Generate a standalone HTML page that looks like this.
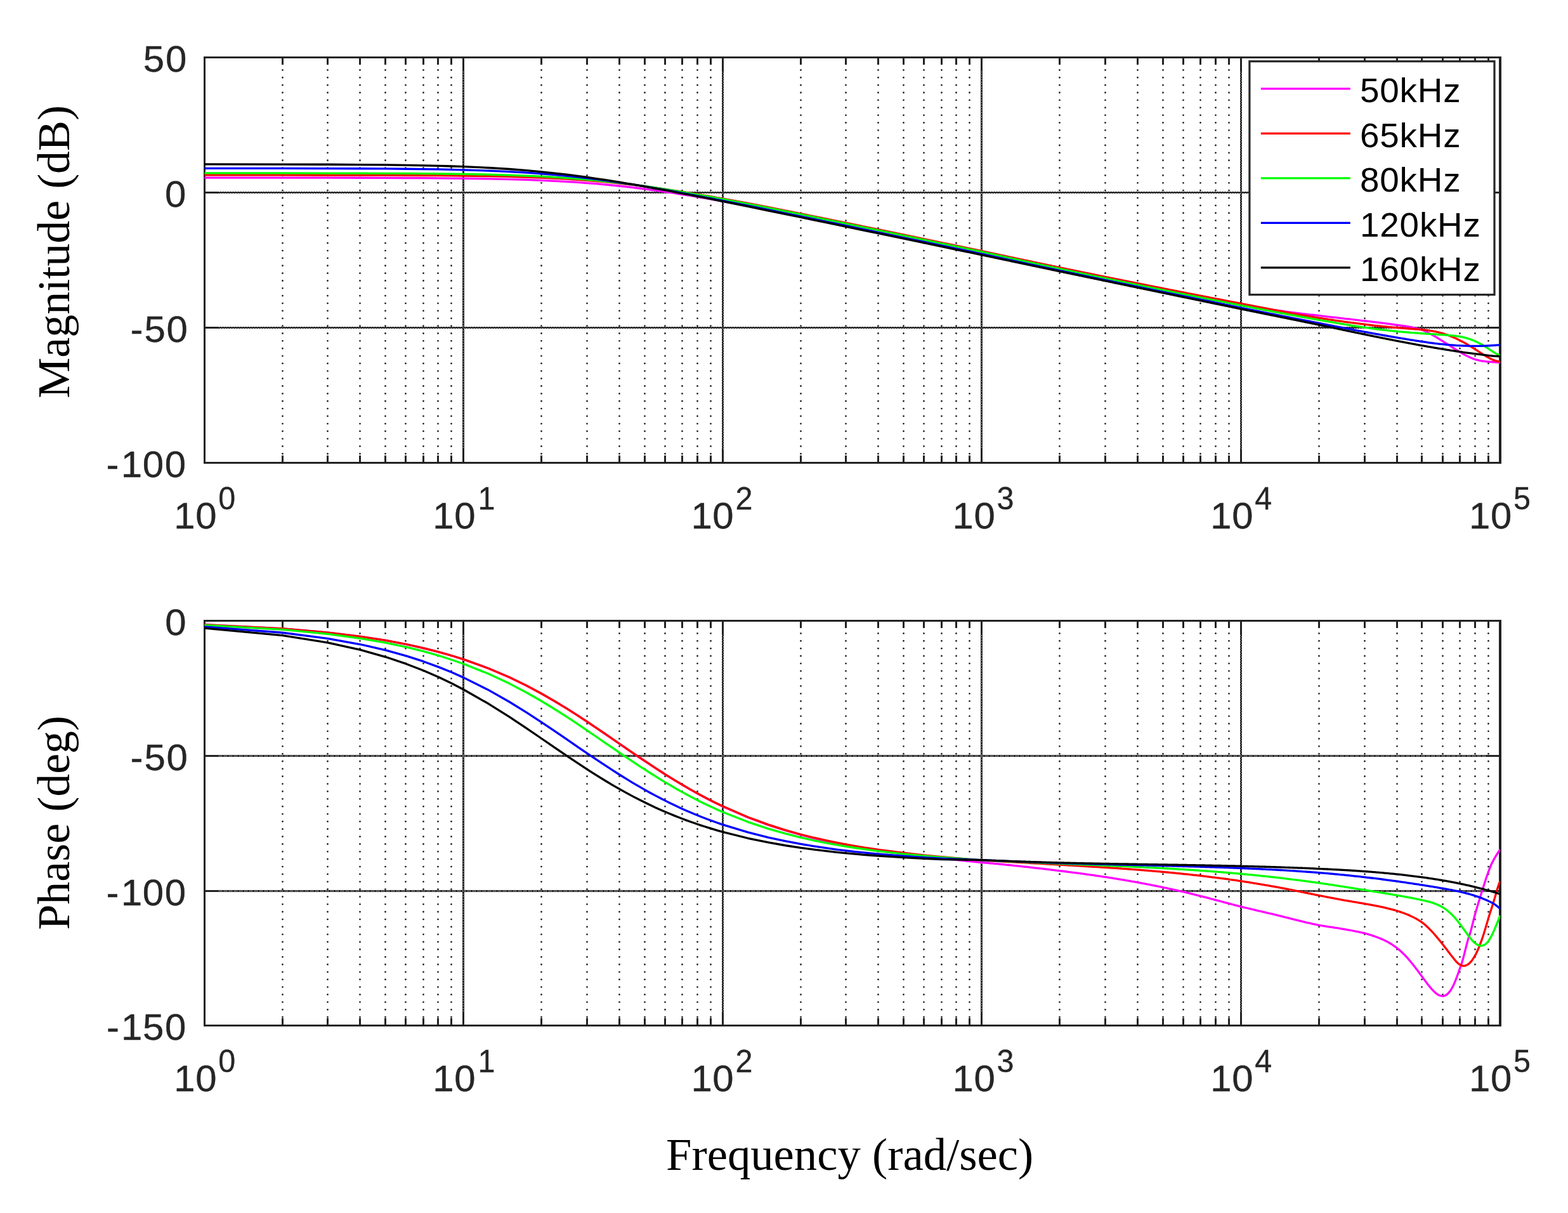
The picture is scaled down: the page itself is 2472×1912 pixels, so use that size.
<!DOCTYPE html>
<html lang="en"><head><meta charset="utf-8"><title>Bode plot</title>
<style>html,body{margin:0;padding:0;background:#fff;overflow:hidden}svg{display:block}text{font-family:"Liberation Sans",sans-serif}.serif{font-family:"Liberation Serif",serif;fill:#000}</style></head><body>
<svg width="2472" height="1912" viewBox="0 0 2472 1912">
<rect width="2472" height="1912" fill="#fff"/>
<defs><clipPath id="ct"><rect x="321.5" y="90.5" width="2044" height="639"/></clipPath><clipPath id="cb"><rect x="321.5" y="978.5" width="2044" height="638"/></clipPath></defs>
<g id="mag">
<path d="M445.5 110.4 V718.5 M516.5 110.4 V718.5 M567.5 110.4 V718.5 M607.5 110.4 V718.5 M639.5 110.4 V718.5 M667.5 110.4 V718.5 M690.5 110.4 V718.5 M711.5 110.4 V718.5 M853.5 110.4 V718.5 M925.5 110.4 V718.5 M976.5 110.4 V718.5 M1016.5 110.4 V718.5 M1048.5 110.4 V718.5 M1075.5 110.4 V718.5 M1099.5 110.4 V718.5 M1120.5 110.4 V718.5 M1262.5 110.4 V718.5 M1333.5 110.4 V718.5 M1384.5 110.4 V718.5 M1424.5 110.4 V718.5 M1456.5 110.4 V718.5 M1484.5 110.4 V718.5 M1507.5 110.4 V718.5 M1528.5 110.4 V718.5 M1670.5 110.4 V718.5 M1742.5 110.4 V718.5 M1793.5 110.4 V718.5 M1833.5 110.4 V718.5 M1865.5 110.4 V718.5 M1892.5 110.4 V718.5 M1916.5 110.4 V718.5 M1937.5 110.4 V718.5 M2079.5 110.4 V718.5 M2151.5 110.4 V718.5 M2202.5 110.4 V718.5 M2241.5 110.4 V718.5 M2274.5 110.4 V718.5 M2301.5 110.4 V718.5 M2325.5 110.4 V718.5 M2346.5 110.4 V718.5" fill="none" stroke="#222222" stroke-width="2.8" stroke-linecap="round" stroke-dasharray="0.01 11.85"/>
<path d="M730.5 90.5 V729.5 M1139.5 90.5 V729.5 M1547.5 90.5 V729.5 M1956.5 90.5 V729.5" fill="none" stroke="#222222" stroke-width="3"/>
<path d="M730.5 113 V708.5 M1547.5 113 V708.5" fill="none" stroke="#fff" stroke-width="1" stroke-dasharray="1 3"/>
<path d="M1138.3 113 V708.5 M1955.3 113 V708.5 M1140.7 115 V708.5 M1957.7 115 V708.5" fill="none" stroke="#fff" stroke-width="0.8" stroke-dasharray="1.2 2.8"/>
<path d="M322.5 303.5 H2365 M322.5 516.5 H2365" fill="none" stroke="#222222" stroke-width="3"/>
<path d="M345 302.3 H2343 M345 515.3 H2343 M347 304.7 H2343 M347 517.7 H2343" fill="none" stroke="#fff" stroke-width="0.8" stroke-dasharray="1.2 2.8"/>
<path d="M445.5 90.5 v11.5 M445.5 729.5 v-11.5 M516.5 90.5 v11.5 M516.5 729.5 v-11.5 M567.5 90.5 v11.5 M567.5 729.5 v-11.5 M607.5 90.5 v11.5 M607.5 729.5 v-11.5 M639.5 90.5 v11.5 M639.5 729.5 v-11.5 M667.5 90.5 v11.5 M667.5 729.5 v-11.5 M690.5 90.5 v11.5 M690.5 729.5 v-11.5 M711.5 90.5 v11.5 M711.5 729.5 v-11.5 M853.5 90.5 v11.5 M853.5 729.5 v-11.5 M925.5 90.5 v11.5 M925.5 729.5 v-11.5 M976.5 90.5 v11.5 M976.5 729.5 v-11.5 M1016.5 90.5 v11.5 M1016.5 729.5 v-11.5 M1048.5 90.5 v11.5 M1048.5 729.5 v-11.5 M1075.5 90.5 v11.5 M1075.5 729.5 v-11.5 M1099.5 90.5 v11.5 M1099.5 729.5 v-11.5 M1120.5 90.5 v11.5 M1120.5 729.5 v-11.5 M1262.5 90.5 v11.5 M1262.5 729.5 v-11.5 M1333.5 90.5 v11.5 M1333.5 729.5 v-11.5 M1384.5 90.5 v11.5 M1384.5 729.5 v-11.5 M1424.5 90.5 v11.5 M1424.5 729.5 v-11.5 M1456.5 90.5 v11.5 M1456.5 729.5 v-11.5 M1484.5 90.5 v11.5 M1484.5 729.5 v-11.5 M1507.5 90.5 v11.5 M1507.5 729.5 v-11.5 M1528.5 90.5 v11.5 M1528.5 729.5 v-11.5 M1670.5 90.5 v11.5 M1670.5 729.5 v-11.5 M1742.5 90.5 v11.5 M1742.5 729.5 v-11.5 M1793.5 90.5 v11.5 M1793.5 729.5 v-11.5 M1833.5 90.5 v11.5 M1833.5 729.5 v-11.5 M1865.5 90.5 v11.5 M1865.5 729.5 v-11.5 M1892.5 90.5 v11.5 M1892.5 729.5 v-11.5 M1916.5 90.5 v11.5 M1916.5 729.5 v-11.5 M1937.5 90.5 v11.5 M1937.5 729.5 v-11.5 M2079.5 90.5 v11.5 M2079.5 729.5 v-11.5 M2151.5 90.5 v11.5 M2151.5 729.5 v-11.5 M2202.5 90.5 v11.5 M2202.5 729.5 v-11.5 M2241.5 90.5 v11.5 M2241.5 729.5 v-11.5 M2274.5 90.5 v11.5 M2274.5 729.5 v-11.5 M2301.5 90.5 v11.5 M2301.5 729.5 v-11.5 M2325.5 90.5 v11.5 M2325.5 729.5 v-11.5 M2346.5 90.5 v11.5 M2346.5 729.5 v-11.5" fill="none" stroke="#222222" stroke-width="3"/>
<rect x="322.5" y="90.5" width="2042.5" height="639" fill="none" stroke="#222222" stroke-width="3"/>
<path d="M2365 89 V731" fill="none" stroke="#222222" stroke-width="4"/>
<g fill="none" stroke-width="3.3" stroke-linejoin="round" clip-path="url(#ct)">
<path d="M322.5 280.1 L445.47 280.13 L517.4 280.19 L568.44 280.27 L608.03 280.38 L640.37 280.51 L667.72 280.66 L691.41 280.83 L712.31 281.03 L731 281.24 L770.59 281.87 L802.93 282.6 L830.28 283.43 L853.97 284.34 L874.87 285.33 L893.56 286.37 L910.47 287.46 L925.9 288.58 L940.1 289.72 L953.25 290.89 L965.49 292.06 L976.94 293.24 L987.7 294.41 L997.84 295.58 L1007.43 296.74 L1016.53 297.89 L1025.19 299.03 L1033.44 300.15 L1041.32 301.26 L1048.87 302.34 L1056.12 303.41 L1063.08 304.47 L1069.77 305.5 L1076.22 306.51 L1082.45 307.51 L1088.46 308.49 L1094.28 309.44 L1099.91 310.38 L1105.37 311.31 L1110.67 312.21 L1115.81 313.1 L1120.81 313.97 L1125.67 314.83 L1130.4 315.67 L1135.01 316.49 L1139.5 317.3 L1179.09 324.64 L1211.43 330.87 L1238.78 336.26 L1262.47 340.99 L1283.37 345.2 L1302.06 349 L1318.97 352.45 L1334.4 355.61 L1348.6 358.52 L1361.75 361.23 L1373.99 363.75 L1385.44 366.11 L1425.03 374.31 L1457.37 381.02 L1484.72 386.7 L1508.41 391.63 L1529.31 395.98 L1548 399.87 L1550 400.34 L1552 400.82 L1554.01 401.29 L1556.01 401.76 L1558.01 402.23 L1560.01 402.7 L1562.02 403.16 L1564.02 403.63 L1566.02 404.1 L1568.02 404.56 L1570.03 405.02 L1572.03 405.49 L1574.03 405.95 L1576.03 406.41 L1578.04 406.87 L1580.04 407.33 L1582.04 407.79 L1584.04 408.25 L1586.05 408.7 L1588.05 409.16 L1590.05 409.61 L1592.05 410.07 L1594.06 410.52 L1596.06 410.97 L1598.06 411.43 L1600.06 411.88 L1602.07 412.33 L1604.07 412.78 L1606.07 413.22 L1608.07 413.67 L1610.08 414.12 L1612.08 414.56 L1614.08 415.01 L1616.08 415.45 L1618.09 415.89 L1620.09 416.34 L1622.09 416.78 L1624.09 417.22 L1626.1 417.66 L1628.1 418.1 L1630.1 418.53 L1632.1 418.97 L1634.11 419.41 L1636.11 419.84 L1638.11 420.28 L1640.11 420.71 L1642.12 421.14 L1644.12 421.58 L1646.12 422.01 L1648.12 422.44 L1650.12 422.87 L1652.13 423.3 L1654.13 423.72 L1656.13 424.15 L1658.13 424.58 L1660.14 425 L1662.14 425.43 L1664.14 425.85 L1666.14 426.28 L1668.15 426.7 L1670.15 427.12 L1672.15 427.54 L1674.15 427.96 L1676.16 428.38 L1678.16 428.8 L1680.16 429.22 L1682.16 429.63 L1684.17 430.05 L1686.17 430.46 L1688.17 430.88 L1690.17 431.29 L1692.18 431.71 L1694.18 432.12 L1696.18 432.53 L1698.18 432.94 L1700.19 433.35 L1702.19 433.76 L1704.19 434.17 L1706.19 434.58 L1708.2 434.98 L1710.2 435.39 L1712.2 435.8 L1714.2 436.2 L1716.21 436.6 L1718.21 437.01 L1720.21 437.41 L1722.21 437.81 L1724.22 438.21 L1726.22 438.61 L1728.22 439.01 L1730.22 439.41 L1732.23 439.81 L1734.23 440.21 L1736.23 440.61 L1738.23 441 L1740.24 441.4 L1742.24 441.79 L1744.24 442.19 L1746.24 442.58 L1748.25 442.97 L1750.25 443.37 L1752.25 443.76 L1754.25 444.15 L1756.25 444.54 L1758.26 444.93 L1760.26 445.32 L1762.26 445.7 L1764.26 446.09 L1766.27 446.48 L1768.27 446.86 L1770.27 447.25 L1772.27 447.63 L1774.28 448.02 L1776.28 448.4 L1778.28 448.78 L1780.28 449.17 L1782.29 449.55 L1784.29 449.93 L1786.29 450.31 L1788.29 450.69 L1790.3 451.07 L1792.3 451.44 L1794.3 451.82 L1796.3 452.2 L1798.31 452.58 L1800.31 452.95 L1802.31 453.33 L1804.31 453.7 L1806.32 454.07 L1808.32 454.45 L1810.32 454.82 L1812.32 455.19 L1814.33 455.56 L1816.33 455.93 L1818.33 456.3 L1820.33 456.67 L1822.34 457.04 L1824.34 457.41 L1826.34 457.78 L1828.34 458.14 L1830.35 458.51 L1832.35 458.88 L1834.35 459.24 L1836.35 459.61 L1838.36 459.97 L1840.36 460.33 L1842.36 460.7 L1844.36 461.06 L1846.37 461.42 L1848.37 461.78 L1850.37 462.14 L1852.37 462.5 L1854.38 462.86 L1856.38 463.22 L1858.38 463.58 L1860.38 463.94 L1862.38 464.29 L1864.39 464.65 L1866.39 465.01 L1868.39 465.36 L1870.39 465.72 L1872.4 466.07 L1874.4 466.43 L1876.4 466.78 L1878.4 467.13 L1880.41 467.48 L1882.41 467.84 L1884.41 468.19 L1886.41 468.54 L1888.42 468.89 L1890.42 469.24 L1892.42 469.59 L1894.42 469.94 L1896.43 470.28 L1898.43 470.63 L1900.43 470.98 L1902.43 471.33 L1904.44 471.67 L1906.44 472.02 L1908.44 472.36 L1910.44 472.71 L1912.45 473.05 L1914.45 473.39 L1916.45 473.74 L1918.45 474.08 L1920.46 474.42 L1922.46 474.76 L1924.46 475.11 L1926.46 475.45 L1928.47 475.79 L1930.47 476.13 L1932.47 476.46 L1934.47 476.8 L1936.48 477.14 L1938.48 477.48 L1940.48 477.82 L1942.48 478.15 L1944.49 478.49 L1946.49 478.83 L1948.49 479.16 L1950.49 479.5 L1952.5 479.83 L1954.5 480.17 L1956.5 480.5 L1958.5 480.83 L1960.5 481.16 L1962.51 481.49 L1964.51 481.82 L1966.51 482.15 L1968.51 482.47 L1970.52 482.79 L1972.52 483.11 L1974.52 483.43 L1976.52 483.75 L1978.53 484.06 L1980.53 484.38 L1982.53 484.69 L1984.53 485 L1986.54 485.31 L1988.54 485.61 L1990.54 485.92 L1992.54 486.22 L1994.55 486.52 L1996.55 486.82 L1998.55 487.11 L2000.55 487.41 L2002.56 487.7 L2004.56 487.99 L2006.56 488.28 L2008.56 488.56 L2010.57 488.85 L2012.57 489.13 L2014.57 489.41 L2016.57 489.69 L2018.58 489.97 L2020.58 490.24 L2022.58 490.51 L2024.58 490.78 L2026.59 491.05 L2028.59 491.31 L2030.59 491.57 L2032.59 491.83 L2034.6 492.09 L2036.6 492.34 L2038.6 492.6 L2040.6 492.85 L2042.61 493.1 L2044.61 493.35 L2046.61 493.6 L2048.61 493.84 L2050.62 494.09 L2052.62 494.33 L2054.62 494.57 L2056.62 494.82 L2058.62 495.06 L2060.63 495.3 L2062.63 495.54 L2064.63 495.78 L2066.63 496.02 L2068.64 496.25 L2070.64 496.49 L2072.64 496.73 L2074.64 496.97 L2076.65 497.21 L2078.65 497.45 L2080.65 497.69 L2082.65 497.93 L2084.66 498.16 L2086.66 498.4 L2088.66 498.63 L2090.66 498.87 L2092.67 499.1 L2094.67 499.33 L2096.67 499.56 L2098.67 499.79 L2100.68 500.02 L2102.68 500.25 L2104.68 500.48 L2106.68 500.71 L2108.69 500.93 L2110.69 501.16 L2112.69 501.39 L2114.69 501.62 L2116.7 501.84 L2118.7 502.07 L2120.7 502.3 L2122.7 502.52 L2124.71 502.75 L2126.71 502.98 L2128.71 503.21 L2130.71 503.43 L2132.72 503.66 L2134.72 503.89 L2136.72 504.12 L2138.72 504.35 L2140.73 504.59 L2142.73 504.82 L2144.73 505.05 L2146.73 505.29 L2148.74 505.53 L2150.74 505.76 L2152.74 506 L2154.74 506.24 L2156.75 506.48 L2158.75 506.72 L2160.75 506.96 L2162.75 507.2 L2164.75 507.45 L2166.76 507.69 L2168.76 507.94 L2170.76 508.18 L2172.76 508.43 L2174.77 508.68 L2176.77 508.93 L2178.77 509.18 L2180.77 509.43 L2182.78 509.69 L2184.78 509.94 L2186.78 510.2 L2188.78 510.45 L2190.79 510.71 L2192.79 510.98 L2194.79 511.24 L2196.79 511.51 L2198.8 511.77 L2200.8 512.04 L2202.8 512.32 L2204.8 512.59 L2206.81 512.85 L2208.81 513.12 L2210.81 513.39 L2212.81 513.67 L2214.82 513.96 L2216.82 514.28 L2218.82 514.62 L2220.82 514.97 L2222.83 515.34 L2224.83 515.73 L2226.83 516.14 L2228.83 516.56 L2230.84 517.01 L2232.84 517.49 L2234.84 517.99 L2236.84 518.53 L2238.85 519.09 L2240.85 519.69 L2242.85 520.35 L2244.85 521.14 L2246.86 522.05 L2248.86 523.01 L2250.86 523.98 L2252.86 525 L2254.87 526.08 L2256.87 527.19 L2258.87 528.33 L2260.87 529.48 L2262.88 530.65 L2264.88 531.85 L2266.88 533.07 L2268.88 534.31 L2270.88 535.56 L2272.89 536.81 L2274.89 538.07 L2276.89 539.33 L2278.89 540.61 L2280.9 541.9 L2282.9 543.18 L2284.9 544.46 L2286.9 545.73 L2288.91 546.99 L2290.91 548.26 L2292.91 549.52 L2294.91 550.78 L2296.92 552.02 L2298.92 553.24 L2300.92 554.44 L2302.92 555.62 L2304.93 556.8 L2306.93 557.96 L2308.93 559.08 L2310.93 560.15 L2312.94 561.14 L2314.94 562.11 L2316.94 563.05 L2318.94 563.96 L2320.95 564.81 L2322.95 565.59 L2324.95 566.28 L2326.95 566.89 L2328.96 567.46 L2330.96 567.97 L2332.96 568.41 L2334.96 568.78 L2336.97 569.1 L2338.97 569.38 L2340.97 569.63 L2342.97 569.86 L2344.98 570.06 L2346.98 570.23 L2348.98 570.38 L2350.98 570.51 L2352.99 570.64 L2354.99 570.76 L2356.99 570.9 L2358.99 571.04 L2361 571.19 L2363 571.34 L2365 571.5" stroke="#ff00ff"/>
<path d="M322.5 275.94 L445.47 275.97 L517.4 276.03 L568.44 276.12 L608.03 276.22 L640.37 276.35 L667.72 276.5 L691.41 276.68 L712.31 276.87 L731 277.09 L770.59 277.71 L802.93 278.44 L830.28 279.27 L853.97 280.19 L874.87 281.17 L893.56 282.21 L910.47 283.3 L925.9 284.42 L940.1 285.57 L953.25 286.73 L965.49 287.9 L976.94 289.08 L987.7 290.25 L997.84 291.42 L1007.43 292.59 L1016.53 293.74 L1025.19 294.87 L1033.44 295.99 L1041.32 297.1 L1048.87 298.19 L1056.12 299.26 L1063.08 300.31 L1069.77 301.34 L1076.22 302.36 L1082.45 303.35 L1088.46 304.33 L1094.28 305.29 L1099.91 306.23 L1105.37 307.15 L1110.67 308.05 L1115.81 308.94 L1120.81 309.81 L1125.67 310.67 L1130.4 311.51 L1135.01 312.33 L1139.5 313.14 L1179.09 320.48 L1211.43 326.72 L1238.78 332.1 L1262.47 336.83 L1283.37 341.05 L1302.06 344.84 L1318.97 348.29 L1334.4 351.45 L1348.6 354.36 L1361.75 357.07 L1373.99 359.59 L1385.44 361.96 L1425.03 370.15 L1457.37 376.86 L1484.72 382.54 L1508.41 387.47 L1529.31 391.82 L1548 395.71 L1550 396.15 L1552 396.58 L1554.01 397.01 L1556.01 397.45 L1558.01 397.88 L1560.01 398.31 L1562.02 398.74 L1564.02 399.18 L1566.02 399.61 L1568.02 400.04 L1570.03 400.47 L1572.03 400.9 L1574.03 401.33 L1576.03 401.76 L1578.04 402.19 L1580.04 402.62 L1582.04 403.05 L1584.04 403.47 L1586.05 403.9 L1588.05 404.33 L1590.05 404.76 L1592.05 405.18 L1594.06 405.61 L1596.06 406.04 L1598.06 406.46 L1600.06 406.89 L1602.07 407.32 L1604.07 407.74 L1606.07 408.17 L1608.07 408.59 L1610.08 409.01 L1612.08 409.44 L1614.08 409.86 L1616.08 410.29 L1618.09 410.71 L1620.09 411.13 L1622.09 411.55 L1624.09 411.98 L1626.1 412.4 L1628.1 412.82 L1630.1 413.24 L1632.1 413.66 L1634.11 414.08 L1636.11 414.5 L1638.11 414.92 L1640.11 415.34 L1642.12 415.76 L1644.12 416.18 L1646.12 416.6 L1648.12 417.02 L1650.12 417.44 L1652.13 417.86 L1654.13 418.27 L1656.13 418.69 L1658.13 419.11 L1660.14 419.53 L1662.14 419.94 L1664.14 420.36 L1666.14 420.77 L1668.15 421.19 L1670.15 421.61 L1672.15 422.02 L1674.15 422.44 L1676.16 422.85 L1678.16 423.26 L1680.16 423.68 L1682.16 424.09 L1684.17 424.51 L1686.17 424.92 L1688.17 425.33 L1690.17 425.74 L1692.18 426.16 L1694.18 426.57 L1696.18 426.98 L1698.18 427.39 L1700.19 427.8 L1702.19 428.22 L1704.19 428.63 L1706.19 429.04 L1708.2 429.45 L1710.2 429.86 L1712.2 430.27 L1714.2 430.68 L1716.21 431.08 L1718.21 431.49 L1720.21 431.9 L1722.21 432.31 L1724.22 432.72 L1726.22 433.13 L1728.22 433.53 L1730.22 433.94 L1732.23 434.35 L1734.23 434.76 L1736.23 435.16 L1738.23 435.57 L1740.24 435.97 L1742.24 436.38 L1744.24 436.79 L1746.24 437.19 L1748.25 437.6 L1750.25 438 L1752.25 438.4 L1754.25 438.81 L1756.25 439.21 L1758.26 439.62 L1760.26 440.02 L1762.26 440.42 L1764.26 440.83 L1766.27 441.23 L1768.27 441.63 L1770.27 442.03 L1772.27 442.44 L1774.28 442.84 L1776.28 443.24 L1778.28 443.64 L1780.28 444.04 L1782.29 444.44 L1784.29 444.84 L1786.29 445.24 L1788.29 445.64 L1790.3 446.04 L1792.3 446.44 L1794.3 446.84 L1796.3 447.24 L1798.31 447.64 L1800.31 448.04 L1802.31 448.44 L1804.31 448.84 L1806.32 449.23 L1808.32 449.63 L1810.32 450.03 L1812.32 450.43 L1814.33 450.82 L1816.33 451.22 L1818.33 451.62 L1820.33 452.01 L1822.34 452.41 L1824.34 452.81 L1826.34 453.2 L1828.34 453.6 L1830.35 453.99 L1832.35 454.39 L1834.35 454.78 L1836.35 455.18 L1838.36 455.57 L1840.36 455.97 L1842.36 456.36 L1844.36 456.76 L1846.37 457.15 L1848.37 457.54 L1850.37 457.94 L1852.37 458.33 L1854.38 458.72 L1856.38 459.11 L1858.38 459.51 L1860.38 459.9 L1862.38 460.29 L1864.39 460.68 L1866.39 461.07 L1868.39 461.47 L1870.39 461.86 L1872.4 462.25 L1874.4 462.64 L1876.4 463.03 L1878.4 463.42 L1880.41 463.81 L1882.41 464.2 L1884.41 464.59 L1886.41 464.98 L1888.42 465.37 L1890.42 465.76 L1892.42 466.15 L1894.42 466.54 L1896.43 466.92 L1898.43 467.31 L1900.43 467.7 L1902.43 468.09 L1904.44 468.48 L1906.44 468.87 L1908.44 469.25 L1910.44 469.64 L1912.45 470.03 L1914.45 470.41 L1916.45 470.8 L1918.45 471.19 L1920.46 471.57 L1922.46 471.96 L1924.46 472.35 L1926.46 472.73 L1928.47 473.12 L1930.47 473.5 L1932.47 473.89 L1934.47 474.27 L1936.48 474.66 L1938.48 475.04 L1940.48 475.43 L1942.48 475.81 L1944.49 476.2 L1946.49 476.58 L1948.49 476.97 L1950.49 477.35 L1952.5 477.73 L1954.5 478.12 L1956.5 478.5 L1958.5 478.88 L1960.5 479.27 L1962.51 479.65 L1964.51 480.04 L1966.51 480.42 L1968.51 480.81 L1970.52 481.2 L1972.52 481.59 L1974.52 481.97 L1976.52 482.36 L1978.53 482.75 L1980.53 483.14 L1982.53 483.53 L1984.53 483.91 L1986.54 484.3 L1988.54 484.69 L1990.54 485.08 L1992.54 485.47 L1994.55 485.85 L1996.55 486.24 L1998.55 486.63 L2000.55 487.01 L2002.56 487.4 L2004.56 487.78 L2006.56 488.17 L2008.56 488.55 L2010.57 488.93 L2012.57 489.31 L2014.57 489.69 L2016.57 490.07 L2018.58 490.45 L2020.58 490.83 L2022.58 491.21 L2024.58 491.58 L2026.59 491.96 L2028.59 492.33 L2030.59 492.7 L2032.59 493.07 L2034.6 493.44 L2036.6 493.81 L2038.6 494.17 L2040.6 494.53 L2042.61 494.89 L2044.61 495.25 L2046.61 495.61 L2048.61 495.97 L2050.62 496.32 L2052.62 496.67 L2054.62 497.02 L2056.62 497.37 L2058.62 497.72 L2060.63 498.06 L2062.63 498.4 L2064.63 498.74 L2066.63 499.07 L2068.64 499.4 L2070.64 499.73 L2072.64 500.06 L2074.64 500.39 L2076.65 500.71 L2078.65 501.03 L2080.65 501.34 L2082.65 501.66 L2084.66 501.97 L2086.66 502.28 L2088.66 502.59 L2090.66 502.9 L2092.67 503.21 L2094.67 503.51 L2096.67 503.81 L2098.67 504.12 L2100.68 504.41 L2102.68 504.71 L2104.68 505.01 L2106.68 505.3 L2108.69 505.59 L2110.69 505.88 L2112.69 506.17 L2114.69 506.46 L2116.7 506.74 L2118.7 507.02 L2120.7 507.3 L2122.7 507.58 L2124.71 507.85 L2126.71 508.13 L2128.71 508.4 L2130.71 508.67 L2132.72 508.93 L2134.72 509.2 L2136.72 509.46 L2138.72 509.72 L2140.73 509.98 L2142.73 510.23 L2144.73 510.48 L2146.73 510.73 L2148.74 510.98 L2150.74 511.23 L2152.74 511.47 L2154.74 511.71 L2156.75 511.95 L2158.75 512.18 L2160.75 512.41 L2162.75 512.64 L2164.75 512.86 L2166.76 513.08 L2168.76 513.3 L2170.76 513.51 L2172.76 513.73 L2174.77 513.94 L2176.77 514.14 L2178.77 514.35 L2180.77 514.55 L2182.78 514.75 L2184.78 514.95 L2186.78 515.14 L2188.78 515.33 L2190.79 515.52 L2192.79 515.71 L2194.79 515.89 L2196.79 516.07 L2198.8 516.24 L2200.8 516.42 L2202.8 516.59 L2204.8 516.75 L2206.81 516.91 L2208.81 517.07 L2210.81 517.22 L2212.81 517.38 L2214.82 517.53 L2216.82 517.69 L2218.82 517.84 L2220.82 517.99 L2222.83 518.14 L2224.83 518.29 L2226.83 518.44 L2228.83 518.58 L2230.84 518.73 L2232.84 518.88 L2234.84 519.04 L2236.84 519.2 L2238.85 519.37 L2240.85 519.55 L2242.85 519.74 L2244.85 519.96 L2246.86 520.18 L2248.86 520.43 L2250.86 520.7 L2252.86 520.98 L2254.87 521.28 L2256.87 521.6 L2258.87 521.95 L2260.87 522.31 L2262.88 522.71 L2264.88 523.14 L2266.88 523.59 L2268.88 524.08 L2270.88 524.59 L2272.89 525.13 L2274.89 525.69 L2276.89 526.3 L2278.89 526.95 L2280.9 527.63 L2282.9 528.35 L2284.9 529.1 L2286.9 529.88 L2288.91 530.68 L2290.91 531.53 L2292.91 532.41 L2294.91 533.32 L2296.92 534.25 L2298.92 535.21 L2300.92 536.19 L2302.92 537.19 L2304.93 538.22 L2306.93 539.3 L2308.93 540.4 L2310.93 541.53 L2312.94 542.67 L2314.94 543.84 L2316.94 545.05 L2318.94 546.27 L2320.95 547.52 L2322.95 548.78 L2324.95 550.04 L2326.95 551.33 L2328.96 552.66 L2330.96 554 L2332.96 555.34 L2334.96 556.63 L2336.97 557.91 L2338.97 559.2 L2340.97 560.47 L2342.97 561.69 L2344.98 562.85 L2346.98 563.92 L2348.98 564.95 L2350.98 565.95 L2352.99 566.87 L2354.99 567.67 L2356.99 568.31 L2358.99 568.87 L2361 569.37 L2363 569.79 L2365 570.1" stroke="#ff0000"/>
<path d="M322.5 272.93 L445.47 272.97 L517.4 273.05 L568.44 273.15 L608.03 273.29 L640.37 273.45 L667.72 273.64 L691.41 273.85 L712.31 274.1 L731 274.36 L770.59 275.13 L802.93 276.03 L830.28 277.04 L853.97 278.14 L874.87 279.31 L893.56 280.54 L910.47 281.81 L925.9 283.1 L940.1 284.41 L953.25 285.74 L965.49 287.06 L976.94 288.37 L987.7 289.67 L997.84 290.96 L1007.43 292.23 L1016.53 293.49 L1025.19 294.72 L1033.44 295.93 L1041.32 297.11 L1048.87 298.27 L1056.12 299.41 L1063.08 300.53 L1069.77 301.62 L1076.22 302.69 L1082.45 303.73 L1088.46 304.76 L1094.28 305.76 L1099.91 306.74 L1105.37 307.7 L1110.67 308.64 L1115.81 309.56 L1120.81 310.46 L1125.67 311.35 L1130.4 312.21 L1135.01 313.06 L1139.5 313.89 L1179.09 321.41 L1211.43 327.74 L1238.78 333.19 L1262.47 337.96 L1283.37 342.21 L1302.06 346.02 L1318.97 349.49 L1334.4 352.66 L1348.6 355.58 L1361.75 358.3 L1373.99 360.82 L1385.44 363.19 L1425.03 371.4 L1457.37 378.12 L1484.72 383.81 L1508.41 388.74 L1529.31 393.09 L1548 396.98 L1550 397.42 L1552 397.87 L1554.01 398.31 L1556.01 398.76 L1558.01 399.2 L1560.01 399.64 L1562.02 400.09 L1564.02 400.53 L1566.02 400.97 L1568.02 401.41 L1570.03 401.86 L1572.03 402.3 L1574.03 402.74 L1576.03 403.18 L1578.04 403.62 L1580.04 404.06 L1582.04 404.5 L1584.04 404.94 L1586.05 405.37 L1588.05 405.81 L1590.05 406.25 L1592.05 406.69 L1594.06 407.12 L1596.06 407.56 L1598.06 408 L1600.06 408.43 L1602.07 408.87 L1604.07 409.31 L1606.07 409.74 L1608.07 410.17 L1610.08 410.61 L1612.08 411.04 L1614.08 411.48 L1616.08 411.91 L1618.09 412.34 L1620.09 412.78 L1622.09 413.21 L1624.09 413.64 L1626.1 414.07 L1628.1 414.5 L1630.1 414.93 L1632.1 415.37 L1634.11 415.8 L1636.11 416.23 L1638.11 416.66 L1640.11 417.08 L1642.12 417.51 L1644.12 417.94 L1646.12 418.37 L1648.12 418.8 L1650.12 419.23 L1652.13 419.65 L1654.13 420.08 L1656.13 420.51 L1658.13 420.93 L1660.14 421.36 L1662.14 421.79 L1664.14 422.21 L1666.14 422.64 L1668.15 423.06 L1670.15 423.49 L1672.15 423.91 L1674.15 424.33 L1676.16 424.76 L1678.16 425.18 L1680.16 425.6 L1682.16 426.03 L1684.17 426.45 L1686.17 426.87 L1688.17 427.29 L1690.17 427.71 L1692.18 428.14 L1694.18 428.56 L1696.18 428.98 L1698.18 429.4 L1700.19 429.82 L1702.19 430.24 L1704.19 430.66 L1706.19 431.08 L1708.2 431.49 L1710.2 431.91 L1712.2 432.33 L1714.2 432.75 L1716.21 433.17 L1718.21 433.58 L1720.21 434 L1722.21 434.42 L1724.22 434.83 L1726.22 435.25 L1728.22 435.67 L1730.22 436.08 L1732.23 436.5 L1734.23 436.91 L1736.23 437.33 L1738.23 437.74 L1740.24 438.15 L1742.24 438.57 L1744.24 438.98 L1746.24 439.39 L1748.25 439.81 L1750.25 440.22 L1752.25 440.63 L1754.25 441.04 L1756.25 441.46 L1758.26 441.87 L1760.26 442.28 L1762.26 442.69 L1764.26 443.1 L1766.27 443.51 L1768.27 443.92 L1770.27 444.33 L1772.27 444.74 L1774.28 445.15 L1776.28 445.56 L1778.28 445.97 L1780.28 446.38 L1782.29 446.79 L1784.29 447.19 L1786.29 447.6 L1788.29 448.01 L1790.3 448.42 L1792.3 448.82 L1794.3 449.23 L1796.3 449.64 L1798.31 450.04 L1800.31 450.45 L1802.31 450.85 L1804.31 451.26 L1806.32 451.66 L1808.32 452.07 L1810.32 452.47 L1812.32 452.88 L1814.33 453.28 L1816.33 453.69 L1818.33 454.09 L1820.33 454.49 L1822.34 454.9 L1824.34 455.3 L1826.34 455.7 L1828.34 456.11 L1830.35 456.51 L1832.35 456.91 L1834.35 457.31 L1836.35 457.71 L1838.36 458.11 L1840.36 458.52 L1842.36 458.92 L1844.36 459.32 L1846.37 459.72 L1848.37 460.12 L1850.37 460.52 L1852.37 460.92 L1854.38 461.32 L1856.38 461.72 L1858.38 462.11 L1860.38 462.51 L1862.38 462.91 L1864.39 463.31 L1866.39 463.71 L1868.39 464.11 L1870.39 464.5 L1872.4 464.9 L1874.4 465.3 L1876.4 465.69 L1878.4 466.09 L1880.41 466.49 L1882.41 466.88 L1884.41 467.28 L1886.41 467.68 L1888.42 468.07 L1890.42 468.47 L1892.42 468.86 L1894.42 469.26 L1896.43 469.65 L1898.43 470.05 L1900.43 470.44 L1902.43 470.84 L1904.44 471.23 L1906.44 471.62 L1908.44 472.02 L1910.44 472.41 L1912.45 472.8 L1914.45 473.2 L1916.45 473.59 L1918.45 473.98 L1920.46 474.37 L1922.46 474.76 L1924.46 475.16 L1926.46 475.55 L1928.47 475.94 L1930.47 476.33 L1932.47 476.72 L1934.47 477.11 L1936.48 477.5 L1938.48 477.89 L1940.48 478.28 L1942.48 478.67 L1944.49 479.06 L1946.49 479.45 L1948.49 479.84 L1950.49 480.23 L1952.5 480.62 L1954.5 481.01 L1956.5 481.4 L1958.5 481.79 L1960.5 482.18 L1962.51 482.56 L1964.51 482.95 L1966.51 483.34 L1968.51 483.73 L1970.52 484.11 L1972.52 484.5 L1974.52 484.89 L1976.52 485.27 L1978.53 485.66 L1980.53 486.04 L1982.53 486.43 L1984.53 486.81 L1986.54 487.2 L1988.54 487.58 L1990.54 487.96 L1992.54 488.35 L1994.55 488.73 L1996.55 489.11 L1998.55 489.49 L2000.55 489.87 L2002.56 490.25 L2004.56 490.63 L2006.56 491.01 L2008.56 491.39 L2010.57 491.77 L2012.57 492.14 L2014.57 492.52 L2016.57 492.9 L2018.58 493.27 L2020.58 493.65 L2022.58 494.02 L2024.58 494.39 L2026.59 494.77 L2028.59 495.14 L2030.59 495.51 L2032.59 495.88 L2034.6 496.25 L2036.6 496.62 L2038.6 496.98 L2040.6 497.35 L2042.61 497.72 L2044.61 498.08 L2046.61 498.45 L2048.61 498.81 L2050.62 499.18 L2052.62 499.54 L2054.62 499.9 L2056.62 500.26 L2058.62 500.62 L2060.63 500.98 L2062.63 501.33 L2064.63 501.69 L2066.63 502.05 L2068.64 502.4 L2070.64 502.75 L2072.64 503.11 L2074.64 503.46 L2076.65 503.81 L2078.65 504.16 L2080.65 504.51 L2082.65 504.86 L2084.66 505.2 L2086.66 505.55 L2088.66 505.9 L2090.66 506.25 L2092.67 506.6 L2094.67 506.95 L2096.67 507.29 L2098.67 507.64 L2100.68 507.99 L2102.68 508.33 L2104.68 508.68 L2106.68 509.02 L2108.69 509.36 L2110.69 509.7 L2112.69 510.04 L2114.69 510.38 L2116.7 510.71 L2118.7 511.05 L2120.7 511.38 L2122.7 511.71 L2124.71 512.04 L2126.71 512.37 L2128.71 512.69 L2130.71 513.01 L2132.72 513.33 L2134.72 513.65 L2136.72 513.96 L2138.72 514.27 L2140.73 514.58 L2142.73 514.88 L2144.73 515.18 L2146.73 515.48 L2148.74 515.77 L2150.74 516.06 L2152.74 516.35 L2154.74 516.64 L2156.75 516.92 L2158.75 517.19 L2160.75 517.47 L2162.75 517.74 L2164.75 518.01 L2166.76 518.27 L2168.76 518.53 L2170.76 518.79 L2172.76 519.04 L2174.77 519.29 L2176.77 519.54 L2178.77 519.78 L2180.77 520.02 L2182.78 520.25 L2184.78 520.48 L2186.78 520.71 L2188.78 520.94 L2190.79 521.16 L2192.79 521.37 L2194.79 521.59 L2196.79 521.79 L2198.8 522 L2200.8 522.2 L2202.8 522.4 L2204.8 522.59 L2206.81 522.78 L2208.81 522.96 L2210.81 523.14 L2212.81 523.32 L2214.82 523.49 L2216.82 523.66 L2218.82 523.83 L2220.82 523.99 L2222.83 524.15 L2224.83 524.31 L2226.83 524.46 L2228.83 524.61 L2230.84 524.76 L2232.84 524.91 L2234.84 525.06 L2236.84 525.2 L2238.85 525.35 L2240.85 525.49 L2242.85 525.63 L2244.85 525.77 L2246.86 525.91 L2248.86 526.05 L2250.86 526.18 L2252.86 526.31 L2254.87 526.45 L2256.87 526.58 L2258.87 526.71 L2260.87 526.85 L2262.88 526.98 L2264.88 527.11 L2266.88 527.24 L2268.88 527.37 L2270.88 527.51 L2272.89 527.64 L2274.89 527.78 L2276.89 527.92 L2278.89 528.06 L2280.9 528.21 L2282.9 528.36 L2284.9 528.52 L2286.9 528.71 L2288.91 528.91 L2290.91 529.12 L2292.91 529.36 L2294.91 529.62 L2296.92 529.89 L2298.92 530.18 L2300.92 530.5 L2302.92 530.84 L2304.93 531.24 L2306.93 531.67 L2308.93 532.14 L2310.93 532.65 L2312.94 533.2 L2314.94 533.8 L2316.94 534.45 L2318.94 535.15 L2320.95 535.9 L2322.95 536.69 L2324.95 537.52 L2326.95 538.39 L2328.96 539.35 L2330.96 540.38 L2332.96 541.46 L2334.96 542.56 L2336.97 543.7 L2338.97 544.9 L2340.97 546.14 L2342.97 547.4 L2344.98 548.67 L2346.98 549.95 L2348.98 551.26 L2350.98 552.61 L2352.99 553.95 L2354.99 555.23 L2356.99 556.43 L2358.99 557.57 L2361 558.66 L2363 559.71 L2365 560.7" stroke="#00ff00"/>
<path d="M322.5 265.33 L445.47 265.41 L517.4 265.55 L568.44 265.73 L608.03 265.97 L640.37 266.26 L667.72 266.6 L691.41 266.97 L712.31 267.39 L731 267.85 L770.59 269.15 L802.93 270.62 L830.28 272.21 L853.97 273.9 L874.87 275.64 L893.56 277.41 L910.47 279.19 L925.9 280.96 L940.1 282.71 L953.25 284.43 L965.49 286.11 L976.94 287.76 L987.7 289.37 L997.84 290.93 L1007.43 292.45 L1016.53 293.93 L1025.19 295.36 L1033.44 296.76 L1041.32 298.11 L1048.87 299.43 L1056.12 300.71 L1063.08 301.95 L1069.77 303.16 L1076.22 304.34 L1082.45 305.48 L1088.46 306.6 L1094.28 307.69 L1099.91 308.75 L1105.37 309.78 L1110.67 310.79 L1115.81 311.77 L1120.81 312.73 L1125.67 313.67 L1130.4 314.58 L1135.01 315.48 L1139.5 316.36 L1179.09 324.19 L1211.43 330.7 L1238.78 336.26 L1262.47 341.1 L1283.37 345.4 L1302.06 349.25 L1318.97 352.74 L1334.4 355.93 L1348.6 358.88 L1361.75 361.6 L1373.99 364.14 L1385.44 366.52 L1425.03 374.75 L1457.37 381.48 L1484.72 387.17 L1508.41 392.11 L1529.31 396.46 L1548 400.36 L1550 400.79 L1552 401.22 L1554.01 401.65 L1556.01 402.08 L1558.01 402.51 L1560.01 402.94 L1562.02 403.37 L1564.02 403.8 L1566.02 404.23 L1568.02 404.66 L1570.03 405.09 L1572.03 405.52 L1574.03 405.95 L1576.03 406.37 L1578.04 406.8 L1580.04 407.23 L1582.04 407.66 L1584.04 408.09 L1586.05 408.51 L1588.05 408.94 L1590.05 409.37 L1592.05 409.8 L1594.06 410.22 L1596.06 410.65 L1598.06 411.08 L1600.06 411.5 L1602.07 411.93 L1604.07 412.36 L1606.07 412.78 L1608.07 413.21 L1610.08 413.63 L1612.08 414.06 L1614.08 414.48 L1616.08 414.91 L1618.09 415.33 L1620.09 415.76 L1622.09 416.18 L1624.09 416.61 L1626.1 417.03 L1628.1 417.46 L1630.1 417.88 L1632.1 418.3 L1634.11 418.73 L1636.11 419.15 L1638.11 419.57 L1640.11 420 L1642.12 420.42 L1644.12 420.84 L1646.12 421.27 L1648.12 421.69 L1650.12 422.11 L1652.13 422.53 L1654.13 422.95 L1656.13 423.38 L1658.13 423.8 L1660.14 424.22 L1662.14 424.64 L1664.14 425.06 L1666.14 425.48 L1668.15 425.9 L1670.15 426.32 L1672.15 426.74 L1674.15 427.17 L1676.16 427.59 L1678.16 428.01 L1680.16 428.43 L1682.16 428.85 L1684.17 429.26 L1686.17 429.68 L1688.17 430.1 L1690.17 430.52 L1692.18 430.94 L1694.18 431.36 L1696.18 431.78 L1698.18 432.2 L1700.19 432.62 L1702.19 433.03 L1704.19 433.45 L1706.19 433.87 L1708.2 434.29 L1710.2 434.71 L1712.2 435.12 L1714.2 435.54 L1716.21 435.96 L1718.21 436.37 L1720.21 436.79 L1722.21 437.21 L1724.22 437.62 L1726.22 438.04 L1728.22 438.46 L1730.22 438.87 L1732.23 439.29 L1734.23 439.71 L1736.23 440.12 L1738.23 440.54 L1740.24 440.95 L1742.24 441.37 L1744.24 441.78 L1746.24 442.2 L1748.25 442.61 L1750.25 443.03 L1752.25 443.44 L1754.25 443.86 L1756.25 444.27 L1758.26 444.69 L1760.26 445.1 L1762.26 445.51 L1764.26 445.93 L1766.27 446.34 L1768.27 446.75 L1770.27 447.17 L1772.27 447.58 L1774.28 447.99 L1776.28 448.41 L1778.28 448.82 L1780.28 449.23 L1782.29 449.65 L1784.29 450.06 L1786.29 450.47 L1788.29 450.88 L1790.3 451.29 L1792.3 451.71 L1794.3 452.12 L1796.3 452.53 L1798.31 452.94 L1800.31 453.35 L1802.31 453.76 L1804.31 454.18 L1806.32 454.59 L1808.32 455 L1810.32 455.41 L1812.32 455.82 L1814.33 456.23 L1816.33 456.64 L1818.33 457.05 L1820.33 457.46 L1822.34 457.87 L1824.34 458.28 L1826.34 458.69 L1828.34 459.1 L1830.35 459.51 L1832.35 459.92 L1834.35 460.33 L1836.35 460.74 L1838.36 461.15 L1840.36 461.56 L1842.36 461.97 L1844.36 462.37 L1846.37 462.78 L1848.37 463.19 L1850.37 463.6 L1852.37 464.01 L1854.38 464.42 L1856.38 464.82 L1858.38 465.23 L1860.38 465.64 L1862.38 466.05 L1864.39 466.46 L1866.39 466.86 L1868.39 467.27 L1870.39 467.68 L1872.4 468.09 L1874.4 468.49 L1876.4 468.9 L1878.4 469.31 L1880.41 469.71 L1882.41 470.12 L1884.41 470.53 L1886.41 470.93 L1888.42 471.34 L1890.42 471.75 L1892.42 472.15 L1894.42 472.56 L1896.43 472.96 L1898.43 473.37 L1900.43 473.78 L1902.43 474.18 L1904.44 474.59 L1906.44 474.99 L1908.44 475.4 L1910.44 475.8 L1912.45 476.21 L1914.45 476.61 L1916.45 477.02 L1918.45 477.42 L1920.46 477.83 L1922.46 478.23 L1924.46 478.64 L1926.46 479.04 L1928.47 479.45 L1930.47 479.85 L1932.47 480.26 L1934.47 480.66 L1936.48 481.06 L1938.48 481.47 L1940.48 481.87 L1942.48 482.28 L1944.49 482.68 L1946.49 483.08 L1948.49 483.49 L1950.49 483.89 L1952.5 484.29 L1954.5 484.7 L1956.5 485.1 L1958.5 485.5 L1960.5 485.91 L1962.51 486.31 L1964.51 486.71 L1966.51 487.11 L1968.51 487.51 L1970.52 487.91 L1972.52 488.32 L1974.52 488.72 L1976.52 489.12 L1978.53 489.52 L1980.53 489.92 L1982.53 490.31 L1984.53 490.71 L1986.54 491.11 L1988.54 491.51 L1990.54 491.91 L1992.54 492.31 L1994.55 492.71 L1996.55 493.1 L1998.55 493.5 L2000.55 493.9 L2002.56 494.29 L2004.56 494.69 L2006.56 495.09 L2008.56 495.48 L2010.57 495.88 L2012.57 496.27 L2014.57 496.67 L2016.57 497.06 L2018.58 497.46 L2020.58 497.85 L2022.58 498.25 L2024.58 498.64 L2026.59 499.03 L2028.59 499.43 L2030.59 499.82 L2032.59 500.21 L2034.6 500.61 L2036.6 501 L2038.6 501.39 L2040.6 501.78 L2042.61 502.18 L2044.61 502.57 L2046.61 502.96 L2048.61 503.35 L2050.62 503.74 L2052.62 504.13 L2054.62 504.52 L2056.62 504.91 L2058.62 505.3 L2060.63 505.69 L2062.63 506.08 L2064.63 506.47 L2066.63 506.86 L2068.64 507.25 L2070.64 507.64 L2072.64 508.03 L2074.64 508.42 L2076.65 508.81 L2078.65 509.2 L2080.65 509.59 L2082.65 509.97 L2084.66 510.36 L2086.66 510.75 L2088.66 511.14 L2090.66 511.53 L2092.67 511.92 L2094.67 512.31 L2096.67 512.7 L2098.67 513.09 L2100.68 513.48 L2102.68 513.86 L2104.68 514.25 L2106.68 514.64 L2108.69 515.03 L2110.69 515.42 L2112.69 515.8 L2114.69 516.19 L2116.7 516.57 L2118.7 516.96 L2120.7 517.34 L2122.7 517.73 L2124.71 518.11 L2126.71 518.49 L2128.71 518.87 L2130.71 519.25 L2132.72 519.63 L2134.72 520.01 L2136.72 520.39 L2138.72 520.76 L2140.73 521.14 L2142.73 521.51 L2144.73 521.89 L2146.73 522.26 L2148.74 522.63 L2150.74 523 L2152.74 523.36 L2154.74 523.73 L2156.75 524.1 L2158.75 524.46 L2160.75 524.82 L2162.75 525.19 L2164.75 525.55 L2166.76 525.91 L2168.76 526.27 L2170.76 526.63 L2172.76 526.98 L2174.77 527.34 L2176.77 527.69 L2178.77 528.05 L2180.77 528.4 L2182.78 528.75 L2184.78 529.11 L2186.78 529.46 L2188.78 529.81 L2190.79 530.15 L2192.79 530.5 L2194.79 530.85 L2196.79 531.19 L2198.8 531.54 L2200.8 531.88 L2202.8 532.22 L2204.8 532.56 L2206.81 532.9 L2208.81 533.23 L2210.81 533.57 L2212.81 533.9 L2214.82 534.23 L2216.82 534.55 L2218.82 534.88 L2220.82 535.2 L2222.83 535.52 L2224.83 535.84 L2226.83 536.16 L2228.83 536.48 L2230.84 536.8 L2232.84 537.11 L2234.84 537.42 L2236.84 537.73 L2238.85 538.03 L2240.85 538.33 L2242.85 538.63 L2244.85 538.92 L2246.86 539.21 L2248.86 539.49 L2250.86 539.77 L2252.86 540.04 L2254.87 540.31 L2256.87 540.58 L2258.87 540.84 L2260.87 541.09 L2262.88 541.33 L2264.88 541.57 L2266.88 541.81 L2268.88 542.04 L2270.88 542.27 L2272.89 542.48 L2274.89 542.69 L2276.89 542.89 L2278.89 543.09 L2280.9 543.28 L2282.9 543.46 L2284.9 543.63 L2286.9 543.79 L2288.91 543.95 L2290.91 544.11 L2292.91 544.26 L2294.91 544.4 L2296.92 544.53 L2298.92 544.65 L2300.92 544.75 L2302.92 544.83 L2304.93 544.91 L2306.93 544.98 L2308.93 545.06 L2310.93 545.13 L2312.94 545.2 L2314.94 545.25 L2316.94 545.31 L2318.94 545.35 L2320.95 545.38 L2322.95 545.41 L2324.95 545.42 L2326.95 545.41 L2328.96 545.4 L2330.96 545.37 L2332.96 545.34 L2334.96 545.3 L2336.97 545.25 L2338.97 545.2 L2340.97 545.15 L2342.97 545.07 L2344.98 544.98 L2346.98 544.88 L2348.98 544.76 L2350.98 544.64 L2352.99 544.52 L2354.99 544.38 L2356.99 544.23 L2358.99 544.05 L2361 543.9 L2363 543.83 L2365 543.8" stroke="#0000ff"/>
<path d="M322.5 258.94 L445.47 259.06 L517.4 259.27 L568.44 259.56 L608.03 259.92 L640.37 260.35 L667.72 260.85 L691.41 261.41 L712.31 262.02 L731 262.68 L770.59 264.51 L802.93 266.52 L830.28 268.65 L853.97 270.84 L874.87 273.04 L893.56 275.23 L910.47 277.38 L925.9 279.47 L940.1 281.51 L953.25 283.49 L965.49 285.4 L976.94 287.24 L987.7 289.03 L997.84 290.74 L1007.43 292.4 L1016.53 294 L1025.19 295.55 L1033.44 297.04 L1041.32 298.48 L1048.87 299.88 L1056.12 301.23 L1063.08 302.54 L1069.77 303.81 L1076.22 305.04 L1082.45 306.24 L1088.46 307.4 L1094.28 308.52 L1099.91 309.62 L1105.37 310.69 L1110.67 311.73 L1115.81 312.74 L1120.81 313.73 L1125.67 314.69 L1130.4 315.63 L1135.01 316.55 L1139.5 317.44 L1179.09 325.42 L1211.43 332.01 L1238.78 337.62 L1262.47 342.5 L1283.37 346.81 L1302.06 350.68 L1318.97 354.18 L1334.4 357.39 L1348.6 360.33 L1361.75 363.07 L1373.99 365.61 L1385.44 367.99 L1425.03 376.23 L1457.37 382.97 L1484.72 388.66 L1508.41 393.6 L1529.31 397.96 L1548 401.85 L1550 402.28 L1552 402.7 L1554.01 403.13 L1556.01 403.55 L1558.01 403.98 L1560.01 404.4 L1562.02 404.82 L1564.02 405.25 L1566.02 405.67 L1568.02 406.1 L1570.03 406.52 L1572.03 406.94 L1574.03 407.37 L1576.03 407.79 L1578.04 408.21 L1580.04 408.64 L1582.04 409.06 L1584.04 409.48 L1586.05 409.91 L1588.05 410.33 L1590.05 410.75 L1592.05 411.18 L1594.06 411.6 L1596.06 412.02 L1598.06 412.45 L1600.06 412.87 L1602.07 413.29 L1604.07 413.71 L1606.07 414.14 L1608.07 414.56 L1610.08 414.98 L1612.08 415.4 L1614.08 415.82 L1616.08 416.25 L1618.09 416.67 L1620.09 417.09 L1622.09 417.51 L1624.09 417.93 L1626.1 418.35 L1628.1 418.78 L1630.1 419.2 L1632.1 419.62 L1634.11 420.04 L1636.11 420.46 L1638.11 420.88 L1640.11 421.3 L1642.12 421.72 L1644.12 422.14 L1646.12 422.56 L1648.12 422.99 L1650.12 423.41 L1652.13 423.83 L1654.13 424.25 L1656.13 424.67 L1658.13 425.09 L1660.14 425.51 L1662.14 425.93 L1664.14 426.35 L1666.14 426.77 L1668.15 427.19 L1670.15 427.61 L1672.15 428.03 L1674.15 428.45 L1676.16 428.87 L1678.16 429.29 L1680.16 429.71 L1682.16 430.13 L1684.17 430.54 L1686.17 430.96 L1688.17 431.38 L1690.17 431.8 L1692.18 432.22 L1694.18 432.64 L1696.18 433.06 L1698.18 433.48 L1700.19 433.9 L1702.19 434.32 L1704.19 434.73 L1706.19 435.15 L1708.2 435.57 L1710.2 435.99 L1712.2 436.41 L1714.2 436.83 L1716.21 437.24 L1718.21 437.66 L1720.21 438.08 L1722.21 438.5 L1724.22 438.92 L1726.22 439.33 L1728.22 439.75 L1730.22 440.17 L1732.23 440.59 L1734.23 441.01 L1736.23 441.42 L1738.23 441.84 L1740.24 442.26 L1742.24 442.67 L1744.24 443.09 L1746.24 443.51 L1748.25 443.93 L1750.25 444.34 L1752.25 444.76 L1754.25 445.18 L1756.25 445.59 L1758.26 446.01 L1760.26 446.43 L1762.26 446.84 L1764.26 447.26 L1766.27 447.68 L1768.27 448.09 L1770.27 448.51 L1772.27 448.93 L1774.28 449.34 L1776.28 449.76 L1778.28 450.18 L1780.28 450.59 L1782.29 451.01 L1784.29 451.42 L1786.29 451.84 L1788.29 452.26 L1790.3 452.67 L1792.3 453.09 L1794.3 453.5 L1796.3 453.92 L1798.31 454.33 L1800.31 454.75 L1802.31 455.17 L1804.31 455.58 L1806.32 456 L1808.32 456.41 L1810.32 456.83 L1812.32 457.24 L1814.33 457.66 L1816.33 458.07 L1818.33 458.49 L1820.33 458.9 L1822.34 459.32 L1824.34 459.73 L1826.34 460.15 L1828.34 460.56 L1830.35 460.98 L1832.35 461.39 L1834.35 461.81 L1836.35 462.22 L1838.36 462.63 L1840.36 463.05 L1842.36 463.46 L1844.36 463.88 L1846.37 464.29 L1848.37 464.71 L1850.37 465.12 L1852.37 465.53 L1854.38 465.95 L1856.38 466.36 L1858.38 466.78 L1860.38 467.19 L1862.38 467.6 L1864.39 468.02 L1866.39 468.43 L1868.39 468.84 L1870.39 469.26 L1872.4 469.67 L1874.4 470.09 L1876.4 470.5 L1878.4 470.91 L1880.41 471.33 L1882.41 471.74 L1884.41 472.15 L1886.41 472.57 L1888.42 472.98 L1890.42 473.39 L1892.42 473.8 L1894.42 474.22 L1896.43 474.63 L1898.43 475.04 L1900.43 475.46 L1902.43 475.87 L1904.44 476.28 L1906.44 476.7 L1908.44 477.11 L1910.44 477.52 L1912.45 477.93 L1914.45 478.35 L1916.45 478.76 L1918.45 479.17 L1920.46 479.58 L1922.46 480 L1924.46 480.41 L1926.46 480.82 L1928.47 481.23 L1930.47 481.64 L1932.47 482.06 L1934.47 482.47 L1936.48 482.88 L1938.48 483.29 L1940.48 483.71 L1942.48 484.12 L1944.49 484.53 L1946.49 484.94 L1948.49 485.35 L1950.49 485.76 L1952.5 486.18 L1954.5 486.59 L1956.5 487 L1958.5 487.41 L1960.5 487.82 L1962.51 488.23 L1964.51 488.64 L1966.51 489.05 L1968.51 489.46 L1970.52 489.87 L1972.52 490.28 L1974.52 490.69 L1976.52 491.1 L1978.53 491.5 L1980.53 491.91 L1982.53 492.32 L1984.53 492.73 L1986.54 493.13 L1988.54 493.54 L1990.54 493.94 L1992.54 494.35 L1994.55 494.76 L1996.55 495.16 L1998.55 495.57 L2000.55 495.97 L2002.56 496.38 L2004.56 496.78 L2006.56 497.19 L2008.56 497.59 L2010.57 498 L2012.57 498.4 L2014.57 498.81 L2016.57 499.21 L2018.58 499.62 L2020.58 500.03 L2022.58 500.43 L2024.58 500.84 L2026.59 501.24 L2028.59 501.65 L2030.59 502.05 L2032.59 502.46 L2034.6 502.86 L2036.6 503.27 L2038.6 503.68 L2040.6 504.08 L2042.61 504.49 L2044.61 504.9 L2046.61 505.3 L2048.61 505.71 L2050.62 506.12 L2052.62 506.53 L2054.62 506.94 L2056.62 507.35 L2058.62 507.76 L2060.63 508.17 L2062.63 508.58 L2064.63 508.99 L2066.63 509.4 L2068.64 509.81 L2070.64 510.22 L2072.64 510.63 L2074.64 511.04 L2076.65 511.46 L2078.65 511.87 L2080.65 512.29 L2082.65 512.7 L2084.66 513.12 L2086.66 513.54 L2088.66 513.95 L2090.66 514.37 L2092.67 514.79 L2094.67 515.21 L2096.67 515.63 L2098.67 516.05 L2100.68 516.48 L2102.68 516.9 L2104.68 517.32 L2106.68 517.74 L2108.69 518.17 L2110.69 518.59 L2112.69 519.01 L2114.69 519.44 L2116.7 519.86 L2118.7 520.28 L2120.7 520.71 L2122.7 521.13 L2124.71 521.55 L2126.71 521.98 L2128.71 522.4 L2130.71 522.82 L2132.72 523.24 L2134.72 523.66 L2136.72 524.08 L2138.72 524.5 L2140.73 524.92 L2142.73 525.33 L2144.73 525.75 L2146.73 526.16 L2148.74 526.58 L2150.74 526.99 L2152.74 527.4 L2154.74 527.81 L2156.75 528.22 L2158.75 528.63 L2160.75 529.04 L2162.75 529.45 L2164.75 529.86 L2166.76 530.26 L2168.76 530.67 L2170.76 531.08 L2172.76 531.48 L2174.77 531.88 L2176.77 532.28 L2178.77 532.69 L2180.77 533.09 L2182.78 533.49 L2184.78 533.88 L2186.78 534.28 L2188.78 534.68 L2190.79 535.07 L2192.79 535.46 L2194.79 535.86 L2196.79 536.25 L2198.8 536.64 L2200.8 537.03 L2202.8 537.41 L2204.8 537.8 L2206.81 538.19 L2208.81 538.57 L2210.81 538.95 L2212.81 539.33 L2214.82 539.71 L2216.82 540.09 L2218.82 540.47 L2220.82 540.84 L2222.83 541.21 L2224.83 541.58 L2226.83 541.95 L2228.83 542.32 L2230.84 542.69 L2232.84 543.06 L2234.84 543.42 L2236.84 543.79 L2238.85 544.15 L2240.85 544.51 L2242.85 544.87 L2244.85 545.23 L2246.86 545.58 L2248.86 545.93 L2250.86 546.28 L2252.86 546.63 L2254.87 546.98 L2256.87 547.32 L2258.87 547.67 L2260.87 548.01 L2262.88 548.35 L2264.88 548.69 L2266.88 549.02 L2268.88 549.36 L2270.88 549.69 L2272.89 550.02 L2274.89 550.35 L2276.89 550.67 L2278.89 551 L2280.9 551.32 L2282.9 551.64 L2284.9 551.95 L2286.9 552.27 L2288.91 552.58 L2290.91 552.89 L2292.91 553.2 L2294.91 553.5 L2296.92 553.8 L2298.92 554.1 L2300.92 554.4 L2302.92 554.69 L2304.93 554.98 L2306.93 555.27 L2308.93 555.56 L2310.93 555.84 L2312.94 556.11 L2314.94 556.39 L2316.94 556.66 L2318.94 556.93 L2320.95 557.2 L2322.95 557.46 L2324.95 557.72 L2326.95 557.97 L2328.96 558.23 L2330.96 558.47 L2332.96 558.72 L2334.96 558.96 L2336.97 559.19 L2338.97 559.43 L2340.97 559.66 L2342.97 559.88 L2344.98 560.1 L2346.98 560.32 L2348.98 560.55 L2350.98 560.79 L2352.99 561.01 L2354.99 561.18 L2356.99 561.31 L2358.99 561.41 L2361 561.5 L2363 561.57 L2365 561.6" stroke="#000000"/>
</g>
</g>
<g id="phase">
<path d="M445.5 998.4 V1605.5 M516.5 998.4 V1605.5 M567.5 998.4 V1605.5 M607.5 998.4 V1605.5 M639.5 998.4 V1605.5 M667.5 998.4 V1605.5 M690.5 998.4 V1605.5 M711.5 998.4 V1605.5 M853.5 998.4 V1605.5 M925.5 998.4 V1605.5 M976.5 998.4 V1605.5 M1016.5 998.4 V1605.5 M1048.5 998.4 V1605.5 M1075.5 998.4 V1605.5 M1099.5 998.4 V1605.5 M1120.5 998.4 V1605.5 M1262.5 998.4 V1605.5 M1333.5 998.4 V1605.5 M1384.5 998.4 V1605.5 M1424.5 998.4 V1605.5 M1456.5 998.4 V1605.5 M1484.5 998.4 V1605.5 M1507.5 998.4 V1605.5 M1528.5 998.4 V1605.5 M1670.5 998.4 V1605.5 M1742.5 998.4 V1605.5 M1793.5 998.4 V1605.5 M1833.5 998.4 V1605.5 M1865.5 998.4 V1605.5 M1892.5 998.4 V1605.5 M1916.5 998.4 V1605.5 M1937.5 998.4 V1605.5 M2079.5 998.4 V1605.5 M2151.5 998.4 V1605.5 M2202.5 998.4 V1605.5 M2241.5 998.4 V1605.5 M2274.5 998.4 V1605.5 M2301.5 998.4 V1605.5 M2325.5 998.4 V1605.5 M2346.5 998.4 V1605.5" fill="none" stroke="#222222" stroke-width="2.8" stroke-linecap="round" stroke-dasharray="0.01 11.85"/>
<path d="M730.5 978.5 V1616.5 M1139.5 978.5 V1616.5 M1547.5 978.5 V1616.5 M1956.5 978.5 V1616.5" fill="none" stroke="#222222" stroke-width="3"/>
<path d="M730.5 1001 V1595.5 M1547.5 1001 V1595.5" fill="none" stroke="#fff" stroke-width="1" stroke-dasharray="1 3"/>
<path d="M1138.3 1001 V1595.5 M1955.3 1001 V1595.5 M1140.7 1003 V1595.5 M1957.7 1003 V1595.5" fill="none" stroke="#fff" stroke-width="0.8" stroke-dasharray="1.2 2.8"/>
<path d="M322.5 1191.5 H2365 M322.5 1404.5 H2365" fill="none" stroke="#222222" stroke-width="3"/>
<path d="M345 1191.5 H2343 M345 1404.5 H2343" fill="none" stroke="#fff" stroke-width="1" stroke-dasharray="1 1 1 1 1 3"/>
<path d="M445.5 978.5 v11.5 M445.5 1616.5 v-11.5 M516.5 978.5 v11.5 M516.5 1616.5 v-11.5 M567.5 978.5 v11.5 M567.5 1616.5 v-11.5 M607.5 978.5 v11.5 M607.5 1616.5 v-11.5 M639.5 978.5 v11.5 M639.5 1616.5 v-11.5 M667.5 978.5 v11.5 M667.5 1616.5 v-11.5 M690.5 978.5 v11.5 M690.5 1616.5 v-11.5 M711.5 978.5 v11.5 M711.5 1616.5 v-11.5 M853.5 978.5 v11.5 M853.5 1616.5 v-11.5 M925.5 978.5 v11.5 M925.5 1616.5 v-11.5 M976.5 978.5 v11.5 M976.5 1616.5 v-11.5 M1016.5 978.5 v11.5 M1016.5 1616.5 v-11.5 M1048.5 978.5 v11.5 M1048.5 1616.5 v-11.5 M1075.5 978.5 v11.5 M1075.5 1616.5 v-11.5 M1099.5 978.5 v11.5 M1099.5 1616.5 v-11.5 M1120.5 978.5 v11.5 M1120.5 1616.5 v-11.5 M1262.5 978.5 v11.5 M1262.5 1616.5 v-11.5 M1333.5 978.5 v11.5 M1333.5 1616.5 v-11.5 M1384.5 978.5 v11.5 M1384.5 1616.5 v-11.5 M1424.5 978.5 v11.5 M1424.5 1616.5 v-11.5 M1456.5 978.5 v11.5 M1456.5 1616.5 v-11.5 M1484.5 978.5 v11.5 M1484.5 1616.5 v-11.5 M1507.5 978.5 v11.5 M1507.5 1616.5 v-11.5 M1528.5 978.5 v11.5 M1528.5 1616.5 v-11.5 M1670.5 978.5 v11.5 M1670.5 1616.5 v-11.5 M1742.5 978.5 v11.5 M1742.5 1616.5 v-11.5 M1793.5 978.5 v11.5 M1793.5 1616.5 v-11.5 M1833.5 978.5 v11.5 M1833.5 1616.5 v-11.5 M1865.5 978.5 v11.5 M1865.5 1616.5 v-11.5 M1892.5 978.5 v11.5 M1892.5 1616.5 v-11.5 M1916.5 978.5 v11.5 M1916.5 1616.5 v-11.5 M1937.5 978.5 v11.5 M1937.5 1616.5 v-11.5 M2079.5 978.5 v11.5 M2079.5 1616.5 v-11.5 M2151.5 978.5 v11.5 M2151.5 1616.5 v-11.5 M2202.5 978.5 v11.5 M2202.5 1616.5 v-11.5 M2241.5 978.5 v11.5 M2241.5 1616.5 v-11.5 M2274.5 978.5 v11.5 M2274.5 1616.5 v-11.5 M2301.5 978.5 v11.5 M2301.5 1616.5 v-11.5 M2325.5 978.5 v11.5 M2325.5 1616.5 v-11.5 M2346.5 978.5 v11.5 M2346.5 1616.5 v-11.5" fill="none" stroke="#222222" stroke-width="3"/>
<rect x="322.5" y="978.5" width="2042.5" height="638" fill="none" stroke="#222222" stroke-width="3"/>
<path d="M2365 977 V1618" fill="none" stroke="#222222" stroke-width="4"/>
<g fill="none" stroke-width="3.3" stroke-linejoin="round" clip-path="url(#cb)">
<path d="M322.5 984.72 L445.47 990.92 L517.4 997.12 L568.44 1003.29 L608.03 1009.42 L640.37 1015.52 L667.72 1021.57 L691.41 1027.57 L712.31 1033.51 L731 1039.39 L770.59 1053.75 L802.93 1067.6 L830.28 1080.88 L853.97 1093.54 L874.87 1105.57 L893.56 1116.96 L910.47 1127.72 L925.9 1137.85 L940.1 1147.38 L953.25 1156.34 L965.49 1164.75 L976.94 1172.64 L987.7 1180.04 L997.84 1187 L1007.43 1193.53 L1016.53 1199.66 L1025.19 1205.43 L1033.44 1210.86 L1041.32 1215.97 L1048.87 1220.79 L1056.12 1225.33 L1063.08 1229.63 L1069.77 1233.69 L1076.22 1237.53 L1082.45 1241.17 L1088.46 1244.62 L1094.28 1247.9 L1099.91 1251.01 L1105.37 1253.98 L1110.67 1256.8 L1115.81 1259.48 L1120.81 1262.05 L1125.67 1264.49 L1130.4 1266.83 L1135.01 1269.07 L1139.5 1271.21 L1179.09 1288.43 L1211.43 1300.42 L1238.78 1309.22 L1262.47 1315.96 L1283.37 1321.28 L1302.06 1325.61 L1318.97 1329.2 L1334.4 1332.23 L1348.6 1334.83 L1361.75 1337.08 L1373.99 1339.07 L1385.44 1340.82 L1425.03 1346.29 L1457.37 1350.18 L1484.72 1353.16 L1548 1359.5 L1550 1359.68 L1552 1359.85 L1554.01 1360.03 L1556.01 1360.21 L1558.01 1360.4 L1560.01 1360.58 L1562.02 1360.77 L1564.02 1360.95 L1566.02 1361.14 L1568.02 1361.33 L1570.03 1361.52 L1572.03 1361.71 L1574.03 1361.91 L1576.03 1362.1 L1578.04 1362.3 L1580.04 1362.5 L1582.04 1362.7 L1584.04 1362.9 L1586.05 1363.1 L1588.05 1363.3 L1590.05 1363.5 L1592.05 1363.71 L1594.06 1363.92 L1596.06 1364.12 L1598.06 1364.33 L1600.06 1364.54 L1602.07 1364.75 L1604.07 1364.97 L1606.07 1365.18 L1608.07 1365.39 L1610.08 1365.61 L1612.08 1365.83 L1614.08 1366.05 L1616.08 1366.26 L1618.09 1366.48 L1620.09 1366.71 L1622.09 1366.93 L1624.09 1367.15 L1626.1 1367.37 L1628.1 1367.6 L1630.1 1367.83 L1632.1 1368.05 L1634.11 1368.28 L1636.11 1368.51 L1638.11 1368.74 L1640.11 1368.97 L1642.12 1369.2 L1644.12 1369.43 L1646.12 1369.67 L1648.12 1369.9 L1650.12 1370.14 L1652.13 1370.37 L1654.13 1370.61 L1656.13 1370.84 L1658.13 1371.08 L1660.14 1371.32 L1662.14 1371.56 L1664.14 1371.8 L1666.14 1372.04 L1668.15 1372.28 L1670.15 1372.53 L1672.15 1372.77 L1674.15 1373.01 L1676.16 1373.26 L1678.16 1373.51 L1680.16 1373.76 L1682.16 1374.01 L1684.17 1374.27 L1686.17 1374.52 L1688.17 1374.78 L1690.17 1375.04 L1692.18 1375.3 L1694.18 1375.56 L1696.18 1375.83 L1698.18 1376.09 L1700.19 1376.36 L1702.19 1376.63 L1704.19 1376.9 L1706.19 1377.18 L1708.2 1377.45 L1710.2 1377.73 L1712.2 1378.01 L1714.2 1378.29 L1716.21 1378.57 L1718.21 1378.85 L1720.21 1379.13 L1722.21 1379.42 L1724.22 1379.71 L1726.22 1380 L1728.22 1380.29 L1730.22 1380.58 L1732.23 1380.88 L1734.23 1381.17 L1736.23 1381.47 L1738.23 1381.77 L1740.24 1382.07 L1742.24 1382.37 L1744.24 1382.68 L1746.24 1382.98 L1748.25 1383.29 L1750.25 1383.6 L1752.25 1383.92 L1754.25 1384.24 L1756.25 1384.56 L1758.26 1384.88 L1760.26 1385.2 L1762.26 1385.53 L1764.26 1385.86 L1766.27 1386.19 L1768.27 1386.53 L1770.27 1386.87 L1772.27 1387.2 L1774.28 1387.55 L1776.28 1387.89 L1778.28 1388.24 L1780.28 1388.58 L1782.29 1388.93 L1784.29 1389.29 L1786.29 1389.64 L1788.29 1389.99 L1790.3 1390.35 L1792.3 1390.71 L1794.3 1391.07 L1796.3 1391.44 L1798.31 1391.8 L1800.31 1392.17 L1802.31 1392.55 L1804.31 1392.92 L1806.32 1393.3 L1808.32 1393.69 L1810.32 1394.07 L1812.32 1394.46 L1814.33 1394.85 L1816.33 1395.25 L1818.33 1395.64 L1820.33 1396.04 L1822.34 1396.44 L1824.34 1396.85 L1826.34 1397.25 L1828.34 1397.66 L1830.35 1398.07 L1832.35 1398.48 L1834.35 1398.9 L1836.35 1399.32 L1838.36 1399.74 L1840.36 1400.17 L1842.36 1400.59 L1844.36 1401.03 L1846.37 1401.46 L1848.37 1401.9 L1850.37 1402.34 L1852.37 1402.79 L1854.38 1403.23 L1856.38 1403.69 L1858.38 1404.14 L1860.38 1404.59 L1862.38 1405.05 L1864.39 1405.51 L1866.39 1405.98 L1868.39 1406.44 L1870.39 1406.92 L1872.4 1407.39 L1874.4 1407.87 L1876.4 1408.35 L1878.4 1408.84 L1880.41 1409.33 L1882.41 1409.82 L1884.41 1410.31 L1886.41 1410.81 L1888.42 1411.31 L1890.42 1411.81 L1892.42 1412.32 L1894.42 1412.82 L1896.43 1413.34 L1898.43 1413.85 L1900.43 1414.37 L1902.43 1414.9 L1904.44 1415.42 L1906.44 1415.95 L1908.44 1416.48 L1910.44 1417.01 L1912.45 1417.54 L1914.45 1418.08 L1916.45 1418.6 L1918.45 1419.13 L1920.46 1419.67 L1922.46 1420.2 L1924.46 1420.73 L1926.46 1421.27 L1928.47 1421.8 L1930.47 1422.34 L1932.47 1422.87 L1934.47 1423.4 L1936.48 1423.93 L1938.48 1424.45 L1940.48 1424.97 L1942.48 1425.49 L1944.49 1426.01 L1946.49 1426.53 L1948.49 1427.04 L1950.49 1427.55 L1952.5 1428.06 L1954.5 1428.56 L1956.5 1429.06 L1958.5 1429.56 L1960.5 1430.05 L1962.51 1430.54 L1964.51 1431.02 L1966.51 1431.51 L1968.51 1431.99 L1970.52 1432.47 L1972.52 1432.95 L1974.52 1433.42 L1976.52 1433.9 L1978.53 1434.37 L1980.53 1434.85 L1982.53 1435.32 L1984.53 1435.79 L1986.54 1436.26 L1988.54 1436.73 L1990.54 1437.19 L1992.54 1437.66 L1994.55 1438.13 L1996.55 1438.6 L1998.55 1439.07 L2000.55 1439.54 L2002.56 1440.01 L2004.56 1440.48 L2006.56 1440.95 L2008.56 1441.42 L2010.57 1441.89 L2012.57 1442.37 L2014.57 1442.85 L2016.57 1443.33 L2018.58 1443.82 L2020.58 1444.31 L2022.58 1444.81 L2024.58 1445.31 L2026.59 1445.81 L2028.59 1446.32 L2030.59 1446.82 L2032.59 1447.33 L2034.6 1447.84 L2036.6 1448.35 L2038.6 1448.86 L2040.6 1449.37 L2042.61 1449.88 L2044.61 1450.39 L2046.61 1450.89 L2048.61 1451.39 L2050.62 1451.89 L2052.62 1452.38 L2054.62 1452.87 L2056.62 1453.35 L2058.62 1453.83 L2060.63 1454.3 L2062.63 1454.76 L2064.63 1455.21 L2066.63 1455.66 L2068.64 1456.1 L2070.64 1456.53 L2072.64 1456.95 L2074.64 1457.36 L2076.65 1457.76 L2078.65 1458.14 L2080.65 1458.52 L2082.65 1458.88 L2084.66 1459.22 L2086.66 1459.56 L2088.66 1459.88 L2090.66 1460.2 L2092.67 1460.51 L2094.67 1460.81 L2096.67 1461.11 L2098.67 1461.41 L2100.68 1461.7 L2102.68 1462 L2104.68 1462.31 L2106.68 1462.61 L2108.69 1462.92 L2110.69 1463.24 L2112.69 1463.57 L2114.69 1463.91 L2116.7 1464.27 L2118.7 1464.62 L2120.7 1464.97 L2122.7 1465.32 L2124.71 1465.67 L2126.71 1466.03 L2128.71 1466.39 L2130.71 1466.75 L2132.72 1467.13 L2134.72 1467.5 L2136.72 1467.89 L2138.72 1468.29 L2140.73 1468.7 L2142.73 1469.12 L2144.73 1469.56 L2146.73 1470.01 L2148.74 1470.48 L2150.74 1470.97 L2152.74 1471.47 L2154.74 1472.01 L2156.75 1472.58 L2158.75 1473.17 L2160.75 1473.79 L2162.75 1474.43 L2164.75 1475.1 L2166.76 1475.8 L2168.76 1476.51 L2170.76 1477.25 L2172.76 1478.01 L2174.77 1478.79 L2176.77 1479.6 L2178.77 1480.46 L2180.77 1481.37 L2182.78 1482.31 L2184.78 1483.3 L2186.78 1484.33 L2188.78 1485.4 L2190.79 1486.52 L2192.79 1487.71 L2194.79 1488.98 L2196.79 1490.31 L2198.8 1491.7 L2200.8 1493.17 L2202.8 1494.69 L2204.8 1496.31 L2206.81 1498.03 L2208.81 1499.83 L2210.81 1501.71 L2212.81 1503.66 L2214.82 1505.66 L2216.82 1507.75 L2218.82 1509.96 L2220.82 1512.26 L2222.83 1514.61 L2224.83 1517.01 L2226.83 1519.49 L2228.83 1522.02 L2230.84 1524.59 L2232.84 1527.2 L2234.84 1529.86 L2236.84 1532.55 L2238.85 1535.27 L2240.85 1537.97 L2242.85 1540.66 L2244.85 1543.39 L2246.86 1546.13 L2248.86 1548.83 L2250.86 1551.44 L2252.86 1553.93 L2254.87 1556.38 L2256.87 1558.75 L2258.87 1560.93 L2260.87 1562.85 L2262.88 1564.68 L2264.88 1566.39 L2266.88 1567.8 L2268.88 1568.75 L2270.88 1569.44 L2272.89 1569.93 L2274.89 1570.05 L2276.89 1569.63 L2278.89 1568.87 L2280.9 1567.78 L2282.9 1565.96 L2284.9 1563.71 L2286.9 1561.07 L2288.91 1557.76 L2290.91 1554 L2292.91 1549.66 L2294.91 1544.85 L2296.92 1539.52 L2298.92 1534.04 L2300.92 1528.35 L2302.92 1522.6 L2304.93 1516.68 L2306.93 1509.91 L2308.93 1502.04 L2310.93 1494.13 L2312.94 1486.12 L2314.94 1479.14 L2316.94 1473.42 L2318.94 1466.68 L2320.95 1458.97 L2322.95 1450.9 L2324.95 1443.03 L2326.95 1435.86 L2328.96 1429.13 L2330.96 1422.55 L2332.96 1416.03 L2334.96 1409.6 L2336.97 1403.15 L2338.97 1396.74 L2340.97 1390.45 L2342.97 1384.32 L2344.98 1378.44 L2346.98 1372.85 L2348.98 1367.7 L2350.98 1362.9 L2352.99 1358.66 L2354.99 1354.94 L2356.99 1351.52 L2358.99 1348.19 L2361 1344.98 L2363 1341.91 L2365 1339" stroke="#ff00ff"/>
<path d="M322.5 984.71 L445.47 990.92 L517.4 997.11 L568.44 1003.27 L608.03 1009.4 L640.37 1015.5 L667.72 1021.55 L691.41 1027.54 L712.31 1033.48 L731 1039.35 L770.59 1053.71 L802.93 1067.55 L830.28 1080.81 L853.97 1093.47 L874.87 1105.49 L893.56 1116.87 L910.47 1127.62 L925.9 1137.74 L940.1 1147.27 L953.25 1156.21 L965.49 1164.61 L976.94 1172.49 L987.7 1179.89 L997.84 1186.84 L1007.43 1193.36 L1016.53 1199.48 L1025.19 1205.24 L1033.44 1210.66 L1041.32 1215.76 L1048.87 1220.57 L1056.12 1225.11 L1063.08 1229.39 L1069.77 1233.45 L1076.22 1237.28 L1082.45 1240.91 L1088.46 1244.35 L1094.28 1247.62 L1099.91 1250.73 L1105.37 1253.68 L1110.67 1256.49 L1115.81 1259.17 L1120.81 1261.72 L1125.67 1264.16 L1130.4 1266.49 L1135.01 1268.72 L1139.5 1270.85 L1179.09 1287.99 L1211.43 1299.88 L1238.78 1308.59 L1262.47 1315.24 L1283.37 1320.48 L1302.06 1324.72 L1318.97 1328.21 L1334.4 1331.15 L1348.6 1333.66 L1361.75 1335.83 L1373.99 1337.72 L1385.44 1339.39 L1425.03 1344.5 L1457.37 1348.03 L1484.72 1350.66 L1548 1356.2 L1550 1356.31 L1552 1356.42 L1554.01 1356.52 L1556.01 1356.63 L1558.01 1356.74 L1560.01 1356.85 L1562.02 1356.96 L1564.02 1357.07 L1566.02 1357.18 L1568.02 1357.29 L1570.03 1357.39 L1572.03 1357.5 L1574.03 1357.61 L1576.03 1357.72 L1578.04 1357.83 L1580.04 1357.94 L1582.04 1358.06 L1584.04 1358.17 L1586.05 1358.28 L1588.05 1358.39 L1590.05 1358.5 L1592.05 1358.61 L1594.06 1358.72 L1596.06 1358.83 L1598.06 1358.94 L1600.06 1359.06 L1602.07 1359.17 L1604.07 1359.28 L1606.07 1359.39 L1608.07 1359.5 L1610.08 1359.62 L1612.08 1359.73 L1614.08 1359.84 L1616.08 1359.96 L1618.09 1360.07 L1620.09 1360.18 L1622.09 1360.3 L1624.09 1360.41 L1626.1 1360.52 L1628.1 1360.64 L1630.1 1360.75 L1632.1 1360.86 L1634.11 1360.98 L1636.11 1361.09 L1638.11 1361.21 L1640.11 1361.32 L1642.12 1361.44 L1644.12 1361.55 L1646.12 1361.67 L1648.12 1361.78 L1650.12 1361.9 L1652.13 1362.01 L1654.13 1362.13 L1656.13 1362.24 L1658.13 1362.36 L1660.14 1362.47 L1662.14 1362.59 L1664.14 1362.71 L1666.14 1362.82 L1668.15 1362.94 L1670.15 1363.05 L1672.15 1363.17 L1674.15 1363.29 L1676.16 1363.4 L1678.16 1363.52 L1680.16 1363.63 L1682.16 1363.75 L1684.17 1363.86 L1686.17 1363.98 L1688.17 1364.1 L1690.17 1364.21 L1692.18 1364.33 L1694.18 1364.44 L1696.18 1364.56 L1698.18 1364.68 L1700.19 1364.79 L1702.19 1364.91 L1704.19 1365.03 L1706.19 1365.14 L1708.2 1365.26 L1710.2 1365.38 L1712.2 1365.5 L1714.2 1365.62 L1716.21 1365.74 L1718.21 1365.86 L1720.21 1365.98 L1722.21 1366.1 L1724.22 1366.23 L1726.22 1366.35 L1728.22 1366.47 L1730.22 1366.6 L1732.23 1366.72 L1734.23 1366.85 L1736.23 1366.98 L1738.23 1367.1 L1740.24 1367.23 L1742.24 1367.36 L1744.24 1367.49 L1746.24 1367.63 L1748.25 1367.76 L1750.25 1367.89 L1752.25 1368.03 L1754.25 1368.16 L1756.25 1368.3 L1758.26 1368.44 L1760.26 1368.57 L1762.26 1368.71 L1764.26 1368.85 L1766.27 1368.99 L1768.27 1369.14 L1770.27 1369.28 L1772.27 1369.42 L1774.28 1369.57 L1776.28 1369.71 L1778.28 1369.86 L1780.28 1370.01 L1782.29 1370.16 L1784.29 1370.31 L1786.29 1370.46 L1788.29 1370.61 L1790.3 1370.76 L1792.3 1370.92 L1794.3 1371.07 L1796.3 1371.23 L1798.31 1371.38 L1800.31 1371.54 L1802.31 1371.7 L1804.31 1371.86 L1806.32 1372.03 L1808.32 1372.19 L1810.32 1372.36 L1812.32 1372.52 L1814.33 1372.69 L1816.33 1372.86 L1818.33 1373.03 L1820.33 1373.21 L1822.34 1373.38 L1824.34 1373.55 L1826.34 1373.73 L1828.34 1373.91 L1830.35 1374.09 L1832.35 1374.27 L1834.35 1374.45 L1836.35 1374.63 L1838.36 1374.81 L1840.36 1375 L1842.36 1375.19 L1844.36 1375.38 L1846.37 1375.57 L1848.37 1375.76 L1850.37 1375.95 L1852.37 1376.15 L1854.38 1376.35 L1856.38 1376.55 L1858.38 1376.75 L1860.38 1376.95 L1862.38 1377.15 L1864.39 1377.36 L1866.39 1377.56 L1868.39 1377.77 L1870.39 1377.98 L1872.4 1378.19 L1874.4 1378.41 L1876.4 1378.62 L1878.4 1378.84 L1880.41 1379.06 L1882.41 1379.28 L1884.41 1379.51 L1886.41 1379.73 L1888.42 1379.96 L1890.42 1380.19 L1892.42 1380.42 L1894.42 1380.65 L1896.43 1380.88 L1898.43 1381.12 L1900.43 1381.35 L1902.43 1381.59 L1904.44 1381.84 L1906.44 1382.08 L1908.44 1382.33 L1910.44 1382.57 L1912.45 1382.82 L1914.45 1383.08 L1916.45 1383.33 L1918.45 1383.58 L1920.46 1383.84 L1922.46 1384.1 L1924.46 1384.37 L1926.46 1384.63 L1928.47 1384.9 L1930.47 1385.17 L1932.47 1385.44 L1934.47 1385.71 L1936.48 1385.98 L1938.48 1386.26 L1940.48 1386.54 L1942.48 1386.82 L1944.49 1387.1 L1946.49 1387.39 L1948.49 1387.67 L1950.49 1387.96 L1952.5 1388.26 L1954.5 1388.56 L1956.5 1388.86 L1958.5 1389.17 L1960.5 1389.48 L1962.51 1389.79 L1964.51 1390.1 L1966.51 1390.42 L1968.51 1390.74 L1970.52 1391.05 L1972.52 1391.38 L1974.52 1391.7 L1976.52 1392.03 L1978.53 1392.35 L1980.53 1392.68 L1982.53 1393.01 L1984.53 1393.35 L1986.54 1393.68 L1988.54 1394.02 L1990.54 1394.36 L1992.54 1394.7 L1994.55 1395.05 L1996.55 1395.39 L1998.55 1395.74 L2000.55 1396.09 L2002.56 1396.44 L2004.56 1396.79 L2006.56 1397.15 L2008.56 1397.5 L2010.57 1397.86 L2012.57 1398.22 L2014.57 1398.59 L2016.57 1398.95 L2018.58 1399.33 L2020.58 1399.7 L2022.58 1400.08 L2024.58 1400.46 L2026.59 1400.85 L2028.59 1401.24 L2030.59 1401.63 L2032.59 1402.03 L2034.6 1402.42 L2036.6 1402.82 L2038.6 1403.22 L2040.6 1403.63 L2042.61 1404.03 L2044.61 1404.44 L2046.61 1404.84 L2048.61 1405.25 L2050.62 1405.66 L2052.62 1406.07 L2054.62 1406.48 L2056.62 1406.88 L2058.62 1407.29 L2060.63 1407.7 L2062.63 1408.11 L2064.63 1408.51 L2066.63 1408.91 L2068.64 1409.32 L2070.64 1409.72 L2072.64 1410.12 L2074.64 1410.51 L2076.65 1410.91 L2078.65 1411.3 L2080.65 1411.69 L2082.65 1412.08 L2084.66 1412.47 L2086.66 1412.86 L2088.66 1413.25 L2090.66 1413.64 L2092.67 1414.02 L2094.67 1414.41 L2096.67 1414.8 L2098.67 1415.19 L2100.68 1415.57 L2102.68 1415.95 L2104.68 1416.33 L2106.68 1416.71 L2108.69 1417.09 L2110.69 1417.46 L2112.69 1417.83 L2114.69 1418.19 L2116.7 1418.56 L2118.7 1418.91 L2120.7 1419.27 L2122.7 1419.62 L2124.71 1419.96 L2126.71 1420.3 L2128.71 1420.64 L2130.71 1420.98 L2132.72 1421.32 L2134.72 1421.66 L2136.72 1421.99 L2138.72 1422.33 L2140.73 1422.67 L2142.73 1423.01 L2144.73 1423.36 L2146.73 1423.7 L2148.74 1424.05 L2150.74 1424.41 L2152.74 1424.76 L2154.74 1425.12 L2156.75 1425.48 L2158.75 1425.83 L2160.75 1426.19 L2162.75 1426.55 L2164.75 1426.92 L2166.76 1427.29 L2168.76 1427.67 L2170.76 1428.06 L2172.76 1428.46 L2174.77 1428.86 L2176.77 1429.28 L2178.77 1429.71 L2180.77 1430.15 L2182.78 1430.6 L2184.78 1431.07 L2186.78 1431.54 L2188.78 1432.03 L2190.79 1432.53 L2192.79 1433.05 L2194.79 1433.58 L2196.79 1434.13 L2198.8 1434.7 L2200.8 1435.29 L2202.8 1435.91 L2204.8 1436.54 L2206.81 1437.19 L2208.81 1437.86 L2210.81 1438.55 L2212.81 1439.26 L2214.82 1440 L2216.82 1440.77 L2218.82 1441.56 L2220.82 1442.39 L2222.83 1443.26 L2224.83 1444.17 L2226.83 1445.12 L2228.83 1446.11 L2230.84 1447.16 L2232.84 1448.25 L2234.84 1449.4 L2236.84 1450.61 L2238.85 1451.88 L2240.85 1453.21 L2242.85 1454.63 L2244.85 1456.19 L2246.86 1457.88 L2248.86 1459.7 L2250.86 1461.6 L2252.86 1463.57 L2254.87 1465.59 L2256.87 1467.63 L2258.87 1469.77 L2260.87 1472.02 L2262.88 1474.34 L2264.88 1476.69 L2266.88 1479.08 L2268.88 1481.54 L2270.88 1484.03 L2272.89 1486.55 L2274.89 1489.08 L2276.89 1491.64 L2278.89 1494.24 L2280.9 1496.83 L2282.9 1499.44 L2284.9 1502.08 L2286.9 1504.69 L2288.91 1507.23 L2290.91 1509.72 L2292.91 1512.22 L2294.91 1514.61 L2296.92 1516.78 L2298.92 1518.69 L2300.92 1520.29 L2302.92 1521.25 L2304.93 1522.02 L2306.93 1522.47 L2308.93 1522.4 L2310.93 1521.81 L2312.94 1520.91 L2314.94 1519.82 L2316.94 1518.11 L2318.94 1515.91 L2320.95 1513.42 L2322.95 1510.45 L2324.95 1507.12 L2326.95 1503.42 L2328.96 1499.23 L2330.96 1494.71 L2332.96 1489.78 L2334.96 1484.43 L2336.97 1478.73 L2338.97 1472.67 L2340.97 1466.25 L2342.97 1459.53 L2344.98 1452.61 L2346.98 1445.66 L2348.98 1439.28 L2350.98 1433.2 L2352.99 1426.93 L2354.99 1420.54 L2356.99 1413.84 L2358.99 1406.9 L2361 1399.76 L2363 1393.84 L2365 1389" stroke="#ff0000"/>
<path d="M322.5 985.47 L445.47 992.44 L517.4 999.38 L568.44 1006.28 L608.03 1013.15 L640.37 1019.95 L667.72 1026.7 L691.41 1033.37 L712.31 1039.95 L731 1046.45 L770.59 1062.26 L802.93 1077.36 L830.28 1091.71 L853.97 1105.26 L874.87 1118.01 L893.56 1129.95 L910.47 1141.12 L925.9 1151.53 L940.1 1161.24 L953.25 1170.28 L965.49 1178.7 L976.94 1186.55 L987.7 1193.85 L997.84 1200.66 L1007.43 1207.02 L1016.53 1212.96 L1025.19 1218.51 L1033.44 1223.71 L1041.32 1228.58 L1048.87 1233.15 L1056.12 1237.45 L1063.08 1241.5 L1069.77 1245.31 L1076.22 1248.9 L1082.45 1252.3 L1088.46 1255.51 L1094.28 1258.55 L1099.91 1261.43 L1105.37 1264.17 L1110.67 1266.77 L1115.81 1269.24 L1120.81 1271.59 L1125.67 1273.83 L1130.4 1275.97 L1135.01 1278.02 L1139.5 1279.97 L1179.09 1295.57 L1211.43 1306.31 L1238.78 1314.14 L1262.47 1320.1 L1283.37 1324.78 L1302.06 1328.56 L1318.97 1331.67 L1334.4 1334.28 L1348.6 1336.5 L1361.75 1338.42 L1373.99 1340.1 L1385.44 1341.57 L1425.03 1346.06 L1457.37 1349.14 L1484.72 1351.41 L1548 1355.8 L1550 1355.9 L1552 1355.99 L1554.01 1356.09 L1556.01 1356.18 L1558.01 1356.27 L1560.01 1356.37 L1562.02 1356.46 L1564.02 1356.56 L1566.02 1356.65 L1568.02 1356.74 L1570.03 1356.84 L1572.03 1356.93 L1574.03 1357.02 L1576.03 1357.12 L1578.04 1357.21 L1580.04 1357.3 L1582.04 1357.39 L1584.04 1357.49 L1586.05 1357.58 L1588.05 1357.67 L1590.05 1357.76 L1592.05 1357.85 L1594.06 1357.94 L1596.06 1358.03 L1598.06 1358.12 L1600.06 1358.22 L1602.07 1358.31 L1604.07 1358.4 L1606.07 1358.49 L1608.07 1358.58 L1610.08 1358.67 L1612.08 1358.76 L1614.08 1358.85 L1616.08 1358.94 L1618.09 1359.02 L1620.09 1359.11 L1622.09 1359.2 L1624.09 1359.29 L1626.1 1359.38 L1628.1 1359.47 L1630.1 1359.56 L1632.1 1359.64 L1634.11 1359.73 L1636.11 1359.82 L1638.11 1359.91 L1640.11 1359.99 L1642.12 1360.08 L1644.12 1360.17 L1646.12 1360.26 L1648.12 1360.34 L1650.12 1360.43 L1652.13 1360.52 L1654.13 1360.6 L1656.13 1360.69 L1658.13 1360.77 L1660.14 1360.86 L1662.14 1360.95 L1664.14 1361.03 L1666.14 1361.12 L1668.15 1361.2 L1670.15 1361.29 L1672.15 1361.37 L1674.15 1361.46 L1676.16 1361.54 L1678.16 1361.62 L1680.16 1361.71 L1682.16 1361.79 L1684.17 1361.87 L1686.17 1361.95 L1688.17 1362.03 L1690.17 1362.11 L1692.18 1362.19 L1694.18 1362.28 L1696.18 1362.36 L1698.18 1362.43 L1700.19 1362.51 L1702.19 1362.59 L1704.19 1362.67 L1706.19 1362.75 L1708.2 1362.83 L1710.2 1362.91 L1712.2 1362.99 L1714.2 1363.07 L1716.21 1363.15 L1718.21 1363.23 L1720.21 1363.31 L1722.21 1363.39 L1724.22 1363.47 L1726.22 1363.55 L1728.22 1363.63 L1730.22 1363.72 L1732.23 1363.8 L1734.23 1363.88 L1736.23 1363.97 L1738.23 1364.05 L1740.24 1364.13 L1742.24 1364.22 L1744.24 1364.31 L1746.24 1364.39 L1748.25 1364.48 L1750.25 1364.56 L1752.25 1364.65 L1754.25 1364.74 L1756.25 1364.83 L1758.26 1364.91 L1760.26 1365 L1762.26 1365.09 L1764.26 1365.18 L1766.27 1365.27 L1768.27 1365.36 L1770.27 1365.45 L1772.27 1365.54 L1774.28 1365.63 L1776.28 1365.72 L1778.28 1365.81 L1780.28 1365.9 L1782.29 1366 L1784.29 1366.09 L1786.29 1366.18 L1788.29 1366.28 L1790.3 1366.37 L1792.3 1366.47 L1794.3 1366.57 L1796.3 1366.66 L1798.31 1366.76 L1800.31 1366.86 L1802.31 1366.96 L1804.31 1367.06 L1806.32 1367.16 L1808.32 1367.26 L1810.32 1367.36 L1812.32 1367.47 L1814.33 1367.57 L1816.33 1367.67 L1818.33 1367.78 L1820.33 1367.88 L1822.34 1367.99 L1824.34 1368.1 L1826.34 1368.21 L1828.34 1368.31 L1830.35 1368.42 L1832.35 1368.53 L1834.35 1368.64 L1836.35 1368.76 L1838.36 1368.87 L1840.36 1368.98 L1842.36 1369.1 L1844.36 1369.21 L1846.37 1369.33 L1848.37 1369.45 L1850.37 1369.57 L1852.37 1369.68 L1854.38 1369.81 L1856.38 1369.93 L1858.38 1370.05 L1860.38 1370.17 L1862.38 1370.29 L1864.39 1370.42 L1866.39 1370.55 L1868.39 1370.67 L1870.39 1370.8 L1872.4 1370.93 L1874.4 1371.06 L1876.4 1371.19 L1878.4 1371.32 L1880.41 1371.46 L1882.41 1371.59 L1884.41 1371.73 L1886.41 1371.86 L1888.42 1372 L1890.42 1372.14 L1892.42 1372.28 L1894.42 1372.42 L1896.43 1372.56 L1898.43 1372.71 L1900.43 1372.85 L1902.43 1373 L1904.44 1373.14 L1906.44 1373.29 L1908.44 1373.44 L1910.44 1373.59 L1912.45 1373.75 L1914.45 1373.9 L1916.45 1374.05 L1918.45 1374.21 L1920.46 1374.37 L1922.46 1374.53 L1924.46 1374.69 L1926.46 1374.85 L1928.47 1375.01 L1930.47 1375.18 L1932.47 1375.34 L1934.47 1375.51 L1936.48 1375.68 L1938.48 1375.85 L1940.48 1376.02 L1942.48 1376.19 L1944.49 1376.36 L1946.49 1376.53 L1948.49 1376.71 L1950.49 1376.89 L1952.5 1377.07 L1954.5 1377.25 L1956.5 1377.44 L1958.5 1377.63 L1960.5 1377.82 L1962.51 1378.01 L1964.51 1378.2 L1966.51 1378.39 L1968.51 1378.59 L1970.52 1378.78 L1972.52 1378.98 L1974.52 1379.17 L1976.52 1379.37 L1978.53 1379.57 L1980.53 1379.77 L1982.53 1379.98 L1984.53 1380.18 L1986.54 1380.39 L1988.54 1380.59 L1990.54 1380.8 L1992.54 1381.01 L1994.55 1381.22 L1996.55 1381.44 L1998.55 1381.65 L2000.55 1381.87 L2002.56 1382.09 L2004.56 1382.31 L2006.56 1382.53 L2008.56 1382.75 L2010.57 1382.97 L2012.57 1383.2 L2014.57 1383.43 L2016.57 1383.66 L2018.58 1383.89 L2020.58 1384.13 L2022.58 1384.37 L2024.58 1384.61 L2026.59 1384.85 L2028.59 1385.09 L2030.59 1385.34 L2032.59 1385.58 L2034.6 1385.83 L2036.6 1386.08 L2038.6 1386.33 L2040.6 1386.59 L2042.61 1386.84 L2044.61 1387.1 L2046.61 1387.36 L2048.61 1387.62 L2050.62 1387.88 L2052.62 1388.15 L2054.62 1388.41 L2056.62 1388.68 L2058.62 1388.95 L2060.63 1389.22 L2062.63 1389.49 L2064.63 1389.76 L2066.63 1390.03 L2068.64 1390.3 L2070.64 1390.58 L2072.64 1390.85 L2074.64 1391.13 L2076.65 1391.41 L2078.65 1391.69 L2080.65 1391.97 L2082.65 1392.25 L2084.66 1392.54 L2086.66 1392.83 L2088.66 1393.13 L2090.66 1393.42 L2092.67 1393.72 L2094.67 1394.02 L2096.67 1394.32 L2098.67 1394.63 L2100.68 1394.93 L2102.68 1395.24 L2104.68 1395.55 L2106.68 1395.86 L2108.69 1396.17 L2110.69 1396.48 L2112.69 1396.79 L2114.69 1397.1 L2116.7 1397.41 L2118.7 1397.72 L2120.7 1398.03 L2122.7 1398.34 L2124.71 1398.65 L2126.71 1398.97 L2128.71 1399.28 L2130.71 1399.6 L2132.72 1399.92 L2134.72 1400.24 L2136.72 1400.55 L2138.72 1400.87 L2140.73 1401.19 L2142.73 1401.51 L2144.73 1401.83 L2146.73 1402.15 L2148.74 1402.47 L2150.74 1402.78 L2152.74 1403.1 L2154.74 1403.42 L2156.75 1403.74 L2158.75 1404.06 L2160.75 1404.37 L2162.75 1404.69 L2164.75 1405.01 L2166.76 1405.33 L2168.76 1405.65 L2170.76 1405.97 L2172.76 1406.29 L2174.77 1406.62 L2176.77 1406.94 L2178.77 1407.27 L2180.77 1407.59 L2182.78 1407.92 L2184.78 1408.25 L2186.78 1408.58 L2188.78 1408.92 L2190.79 1409.25 L2192.79 1409.59 L2194.79 1409.92 L2196.79 1410.26 L2198.8 1410.61 L2200.8 1410.96 L2202.8 1411.31 L2204.8 1411.67 L2206.81 1412.03 L2208.81 1412.39 L2210.81 1412.75 L2212.81 1413.11 L2214.82 1413.47 L2216.82 1413.84 L2218.82 1414.21 L2220.82 1414.58 L2222.83 1414.95 L2224.83 1415.33 L2226.83 1415.72 L2228.83 1416.11 L2230.84 1416.5 L2232.84 1416.9 L2234.84 1417.31 L2236.84 1417.72 L2238.85 1418.14 L2240.85 1418.57 L2242.85 1419.01 L2244.85 1419.44 L2246.86 1419.88 L2248.86 1420.33 L2250.86 1420.81 L2252.86 1421.32 L2254.87 1421.87 L2256.87 1422.47 L2258.87 1423.13 L2260.87 1423.84 L2262.88 1424.6 L2264.88 1425.42 L2266.88 1426.29 L2268.88 1427.22 L2270.88 1428.21 L2272.89 1429.26 L2274.89 1430.38 L2276.89 1431.63 L2278.89 1433.02 L2280.9 1434.53 L2282.9 1436.17 L2284.9 1437.9 L2286.9 1439.71 L2288.91 1441.59 L2290.91 1443.57 L2292.91 1445.75 L2294.91 1448.1 L2296.92 1450.55 L2298.92 1453.08 L2300.92 1455.63 L2302.92 1458.22 L2304.93 1460.91 L2306.93 1463.68 L2308.93 1466.46 L2310.93 1469.22 L2312.94 1472.02 L2314.94 1474.77 L2316.94 1477.35 L2318.94 1479.85 L2320.95 1482.2 L2322.95 1484.33 L2324.95 1486.2 L2326.95 1487.71 L2328.96 1489.05 L2330.96 1489.93 L2332.96 1490.49 L2334.96 1490.75 L2336.97 1490.5 L2338.97 1489.92 L2340.97 1488.92 L2342.97 1487.31 L2344.98 1485.29 L2346.98 1482.67 L2348.98 1479.5 L2350.98 1475.9 L2352.99 1471.96 L2354.99 1467.56 L2356.99 1462.94 L2358.99 1458.08 L2361 1453.14 L2363 1448.12 L2365 1443" stroke="#00ff00"/>
<path d="M322.5 987.88 L445.47 997.24 L517.4 1006.54 L568.44 1015.76 L608.03 1024.87 L640.37 1033.86 L667.72 1042.69 L691.41 1051.36 L712.31 1059.84 L731 1068.12 L770.59 1087.89 L802.93 1106.23 L830.28 1123.11 L853.97 1138.55 L874.87 1152.63 L893.56 1165.43 L910.47 1177.05 L925.9 1187.62 L940.1 1197.22 L953.25 1205.97 L965.49 1213.95 L976.94 1221.24 L987.7 1227.91 L997.84 1234.04 L1007.43 1239.68 L1016.53 1244.88 L1025.19 1249.69 L1033.44 1254.14 L1041.32 1258.27 L1048.87 1262.12 L1056.12 1265.7 L1063.08 1269.05 L1069.77 1272.19 L1076.22 1275.13 L1082.45 1277.89 L1088.46 1280.48 L1094.28 1282.93 L1099.91 1285.24 L1105.37 1287.42 L1110.67 1289.48 L1115.81 1291.44 L1120.81 1293.3 L1125.67 1295.06 L1130.4 1296.74 L1135.01 1298.33 L1139.5 1299.86 L1179.09 1311.9 L1211.43 1320.07 L1238.78 1325.97 L1262.47 1330.43 L1283.37 1333.92 L1302.06 1336.71 L1318.97 1339.01 L1334.4 1340.93 L1348.6 1342.55 L1361.75 1343.95 L1373.99 1345.16 L1385.44 1346.23 L1425.03 1349.43 L1457.37 1351.59 L1484.72 1353.14 L1548 1355.6 L1550 1355.69 L1552 1355.79 L1554.01 1355.88 L1556.01 1355.97 L1558.01 1356.07 L1560.01 1356.16 L1562.02 1356.25 L1564.02 1356.34 L1566.02 1356.43 L1568.02 1356.52 L1570.03 1356.61 L1572.03 1356.7 L1574.03 1356.78 L1576.03 1356.87 L1578.04 1356.96 L1580.04 1357.05 L1582.04 1357.13 L1584.04 1357.22 L1586.05 1357.3 L1588.05 1357.39 L1590.05 1357.47 L1592.05 1357.56 L1594.06 1357.64 L1596.06 1357.72 L1598.06 1357.8 L1600.06 1357.88 L1602.07 1357.97 L1604.07 1358.05 L1606.07 1358.13 L1608.07 1358.21 L1610.08 1358.29 L1612.08 1358.36 L1614.08 1358.44 L1616.08 1358.52 L1618.09 1358.6 L1620.09 1358.67 L1622.09 1358.75 L1624.09 1358.82 L1626.1 1358.9 L1628.1 1358.97 L1630.1 1359.05 L1632.1 1359.12 L1634.11 1359.19 L1636.11 1359.27 L1638.11 1359.34 L1640.11 1359.41 L1642.12 1359.48 L1644.12 1359.55 L1646.12 1359.62 L1648.12 1359.69 L1650.12 1359.76 L1652.13 1359.83 L1654.13 1359.9 L1656.13 1359.96 L1658.13 1360.03 L1660.14 1360.1 L1662.14 1360.16 L1664.14 1360.23 L1666.14 1360.29 L1668.15 1360.36 L1670.15 1360.42 L1672.15 1360.49 L1674.15 1360.55 L1676.16 1360.61 L1678.16 1360.67 L1680.16 1360.73 L1682.16 1360.79 L1684.17 1360.85 L1686.17 1360.91 L1688.17 1360.97 L1690.17 1361.02 L1692.18 1361.08 L1694.18 1361.14 L1696.18 1361.19 L1698.18 1361.25 L1700.19 1361.3 L1702.19 1361.35 L1704.19 1361.41 L1706.19 1361.46 L1708.2 1361.51 L1710.2 1361.57 L1712.2 1361.62 L1714.2 1361.67 L1716.21 1361.72 L1718.21 1361.78 L1720.21 1361.83 L1722.21 1361.88 L1724.22 1361.93 L1726.22 1361.98 L1728.22 1362.03 L1730.22 1362.08 L1732.23 1362.13 L1734.23 1362.18 L1736.23 1362.24 L1738.23 1362.29 L1740.24 1362.34 L1742.24 1362.39 L1744.24 1362.44 L1746.24 1362.49 L1748.25 1362.54 L1750.25 1362.59 L1752.25 1362.64 L1754.25 1362.69 L1756.25 1362.74 L1758.26 1362.79 L1760.26 1362.84 L1762.26 1362.89 L1764.26 1362.94 L1766.27 1362.99 L1768.27 1363.03 L1770.27 1363.08 L1772.27 1363.13 L1774.28 1363.18 L1776.28 1363.23 L1778.28 1363.27 L1780.28 1363.32 L1782.29 1363.37 L1784.29 1363.42 L1786.29 1363.47 L1788.29 1363.52 L1790.3 1363.56 L1792.3 1363.61 L1794.3 1363.66 L1796.3 1363.71 L1798.31 1363.76 L1800.31 1363.81 L1802.31 1363.86 L1804.31 1363.91 L1806.32 1363.96 L1808.32 1364.01 L1810.32 1364.06 L1812.32 1364.11 L1814.33 1364.15 L1816.33 1364.2 L1818.33 1364.25 L1820.33 1364.3 L1822.34 1364.35 L1824.34 1364.4 L1826.34 1364.45 L1828.34 1364.5 L1830.35 1364.55 L1832.35 1364.61 L1834.35 1364.66 L1836.35 1364.71 L1838.36 1364.76 L1840.36 1364.81 L1842.36 1364.86 L1844.36 1364.92 L1846.37 1364.97 L1848.37 1365.02 L1850.37 1365.07 L1852.37 1365.13 L1854.38 1365.18 L1856.38 1365.23 L1858.38 1365.29 L1860.38 1365.34 L1862.38 1365.4 L1864.39 1365.45 L1866.39 1365.51 L1868.39 1365.56 L1870.39 1365.62 L1872.4 1365.67 L1874.4 1365.73 L1876.4 1365.79 L1878.4 1365.84 L1880.41 1365.9 L1882.41 1365.96 L1884.41 1366.02 L1886.41 1366.08 L1888.42 1366.14 L1890.42 1366.2 L1892.42 1366.26 L1894.42 1366.32 L1896.43 1366.38 L1898.43 1366.44 L1900.43 1366.5 L1902.43 1366.56 L1904.44 1366.62 L1906.44 1366.69 L1908.44 1366.75 L1910.44 1366.82 L1912.45 1366.88 L1914.45 1366.95 L1916.45 1367.01 L1918.45 1367.08 L1920.46 1367.15 L1922.46 1367.21 L1924.46 1367.28 L1926.46 1367.35 L1928.47 1367.42 L1930.47 1367.49 L1932.47 1367.56 L1934.47 1367.63 L1936.48 1367.71 L1938.48 1367.78 L1940.48 1367.85 L1942.48 1367.93 L1944.49 1368 L1946.49 1368.08 L1948.49 1368.15 L1950.49 1368.23 L1952.5 1368.31 L1954.5 1368.39 L1956.5 1368.48 L1958.5 1368.56 L1960.5 1368.64 L1962.51 1368.73 L1964.51 1368.81 L1966.51 1368.9 L1968.51 1368.99 L1970.52 1369.08 L1972.52 1369.16 L1974.52 1369.25 L1976.52 1369.34 L1978.53 1369.43 L1980.53 1369.53 L1982.53 1369.62 L1984.53 1369.71 L1986.54 1369.81 L1988.54 1369.9 L1990.54 1370 L1992.54 1370.1 L1994.55 1370.19 L1996.55 1370.29 L1998.55 1370.39 L2000.55 1370.5 L2002.56 1370.6 L2004.56 1370.71 L2006.56 1370.81 L2008.56 1370.92 L2010.57 1371.03 L2012.57 1371.14 L2014.57 1371.25 L2016.57 1371.36 L2018.58 1371.48 L2020.58 1371.59 L2022.58 1371.71 L2024.58 1371.83 L2026.59 1371.95 L2028.59 1372.07 L2030.59 1372.2 L2032.59 1372.32 L2034.6 1372.45 L2036.6 1372.58 L2038.6 1372.71 L2040.6 1372.84 L2042.61 1372.97 L2044.61 1373.11 L2046.61 1373.24 L2048.61 1373.38 L2050.62 1373.52 L2052.62 1373.66 L2054.62 1373.8 L2056.62 1373.94 L2058.62 1374.08 L2060.63 1374.23 L2062.63 1374.37 L2064.63 1374.52 L2066.63 1374.67 L2068.64 1374.82 L2070.64 1374.97 L2072.64 1375.12 L2074.64 1375.27 L2076.65 1375.42 L2078.65 1375.58 L2080.65 1375.74 L2082.65 1375.89 L2084.66 1376.06 L2086.66 1376.22 L2088.66 1376.39 L2090.66 1376.56 L2092.67 1376.73 L2094.67 1376.91 L2096.67 1377.08 L2098.67 1377.26 L2100.68 1377.45 L2102.68 1377.63 L2104.68 1377.81 L2106.68 1378 L2108.69 1378.19 L2110.69 1378.38 L2112.69 1378.57 L2114.69 1378.77 L2116.7 1378.96 L2118.7 1379.16 L2120.7 1379.35 L2122.7 1379.56 L2124.71 1379.76 L2126.71 1379.97 L2128.71 1380.17 L2130.71 1380.38 L2132.72 1380.6 L2134.72 1380.81 L2136.72 1381.03 L2138.72 1381.25 L2140.73 1381.46 L2142.73 1381.69 L2144.73 1381.91 L2146.73 1382.13 L2148.74 1382.36 L2150.74 1382.58 L2152.74 1382.81 L2154.74 1383.04 L2156.75 1383.28 L2158.75 1383.51 L2160.75 1383.75 L2162.75 1383.99 L2164.75 1384.24 L2166.76 1384.48 L2168.76 1384.73 L2170.76 1384.98 L2172.76 1385.23 L2174.77 1385.48 L2176.77 1385.73 L2178.77 1385.99 L2180.77 1386.25 L2182.78 1386.51 L2184.78 1386.77 L2186.78 1387.03 L2188.78 1387.3 L2190.79 1387.57 L2192.79 1387.83 L2194.79 1388.1 L2196.79 1388.38 L2198.8 1388.65 L2200.8 1388.93 L2202.8 1389.21 L2204.8 1389.49 L2206.81 1389.78 L2208.81 1390.07 L2210.81 1390.35 L2212.81 1390.64 L2214.82 1390.93 L2216.82 1391.23 L2218.82 1391.52 L2220.82 1391.82 L2222.83 1392.11 L2224.83 1392.41 L2226.83 1392.71 L2228.83 1393.01 L2230.84 1393.32 L2232.84 1393.62 L2234.84 1393.93 L2236.84 1394.24 L2238.85 1394.55 L2240.85 1394.86 L2242.85 1395.17 L2244.85 1395.49 L2246.86 1395.8 L2248.86 1396.12 L2250.86 1396.44 L2252.86 1396.76 L2254.87 1397.09 L2256.87 1397.41 L2258.87 1397.74 L2260.87 1398.07 L2262.88 1398.4 L2264.88 1398.74 L2266.88 1399.08 L2268.88 1399.42 L2270.88 1399.77 L2272.89 1400.12 L2274.89 1400.47 L2276.89 1400.83 L2278.89 1401.18 L2280.9 1401.53 L2282.9 1401.89 L2284.9 1402.25 L2286.9 1402.62 L2288.91 1402.99 L2290.91 1403.37 L2292.91 1403.76 L2294.91 1404.15 L2296.92 1404.56 L2298.92 1404.98 L2300.92 1405.42 L2302.92 1405.87 L2304.93 1406.33 L2306.93 1406.81 L2308.93 1407.3 L2310.93 1407.81 L2312.94 1408.33 L2314.94 1408.87 L2316.94 1409.42 L2318.94 1409.99 L2320.95 1410.58 L2322.95 1411.19 L2324.95 1411.81 L2326.95 1412.46 L2328.96 1413.13 L2330.96 1413.84 L2332.96 1414.57 L2334.96 1415.32 L2336.97 1416.11 L2338.97 1416.92 L2340.97 1417.75 L2342.97 1418.61 L2344.98 1419.5 L2346.98 1420.42 L2348.98 1421.37 L2350.98 1422.37 L2352.99 1423.46 L2354.99 1424.64 L2356.99 1425.94 L2358.99 1427.39 L2361 1428.98 L2363 1430.68 L2365 1432.5" stroke="#0000ff"/>
<path d="M322.5 990.11 L445.47 1001.68 L517.4 1013.13 L568.44 1024.44 L608.03 1035.55 L640.37 1046.43 L667.72 1057.03 L691.41 1067.34 L712.31 1077.33 L731 1086.97 L770.59 1109.55 L802.93 1129.89 L830.28 1148.07 L853.97 1164.25 L874.87 1178.61 L893.56 1191.37 L910.47 1202.72 L925.9 1212.83 L940.1 1221.88 L953.25 1229.99 L965.49 1237.3 L976.94 1243.9 L987.7 1249.88 L997.84 1255.33 L1007.43 1260.3 L1016.53 1264.85 L1025.19 1269.03 L1033.44 1272.88 L1041.32 1276.43 L1048.87 1279.72 L1056.12 1282.78 L1063.08 1285.63 L1069.77 1288.28 L1076.22 1290.76 L1082.45 1293.08 L1088.46 1295.26 L1094.28 1297.31 L1099.91 1299.24 L1105.37 1301.06 L1110.67 1302.78 L1115.81 1304.41 L1120.81 1305.95 L1125.67 1307.41 L1130.4 1308.8 L1135.01 1310.12 L1139.5 1311.38 L1179.09 1321.27 L1211.43 1327.95 L1238.78 1332.75 L1262.47 1336.37 L1283.37 1339.19 L1302.06 1341.45 L1318.97 1343.3 L1334.4 1344.84 L1348.6 1346.15 L1361.75 1347.27 L1373.99 1348.25 L1385.44 1349.1 L1425.03 1351.65 L1457.37 1353.36 L1484.72 1354.58 L1548 1355.6 L1550 1355.69 L1552 1355.77 L1554.01 1355.86 L1556.01 1355.94 L1558.01 1356.03 L1560.01 1356.11 L1562.02 1356.2 L1564.02 1356.28 L1566.02 1356.36 L1568.02 1356.44 L1570.03 1356.52 L1572.03 1356.61 L1574.03 1356.69 L1576.03 1356.77 L1578.04 1356.84 L1580.04 1356.92 L1582.04 1357 L1584.04 1357.08 L1586.05 1357.16 L1588.05 1357.23 L1590.05 1357.31 L1592.05 1357.38 L1594.06 1357.46 L1596.06 1357.53 L1598.06 1357.61 L1600.06 1357.68 L1602.07 1357.75 L1604.07 1357.82 L1606.07 1357.89 L1608.07 1357.96 L1610.08 1358.03 L1612.08 1358.1 L1614.08 1358.17 L1616.08 1358.24 L1618.09 1358.31 L1620.09 1358.38 L1622.09 1358.44 L1624.09 1358.51 L1626.1 1358.57 L1628.1 1358.64 L1630.1 1358.7 L1632.1 1358.77 L1634.11 1358.83 L1636.11 1358.89 L1638.11 1358.95 L1640.11 1359.02 L1642.12 1359.08 L1644.12 1359.14 L1646.12 1359.2 L1648.12 1359.26 L1650.12 1359.31 L1652.13 1359.37 L1654.13 1359.43 L1656.13 1359.49 L1658.13 1359.54 L1660.14 1359.6 L1662.14 1359.65 L1664.14 1359.71 L1666.14 1359.76 L1668.15 1359.81 L1670.15 1359.86 L1672.15 1359.92 L1674.15 1359.97 L1676.16 1360.02 L1678.16 1360.07 L1680.16 1360.11 L1682.16 1360.16 L1684.17 1360.21 L1686.17 1360.26 L1688.17 1360.3 L1690.17 1360.35 L1692.18 1360.39 L1694.18 1360.44 L1696.18 1360.48 L1698.18 1360.53 L1700.19 1360.57 L1702.19 1360.61 L1704.19 1360.65 L1706.19 1360.7 L1708.2 1360.74 L1710.2 1360.78 L1712.2 1360.82 L1714.2 1360.86 L1716.21 1360.9 L1718.21 1360.94 L1720.21 1360.98 L1722.21 1361.02 L1724.22 1361.06 L1726.22 1361.09 L1728.22 1361.13 L1730.22 1361.17 L1732.23 1361.21 L1734.23 1361.25 L1736.23 1361.28 L1738.23 1361.32 L1740.24 1361.36 L1742.24 1361.4 L1744.24 1361.43 L1746.24 1361.47 L1748.25 1361.51 L1750.25 1361.54 L1752.25 1361.58 L1754.25 1361.62 L1756.25 1361.65 L1758.26 1361.68 L1760.26 1361.72 L1762.26 1361.75 L1764.26 1361.79 L1766.27 1361.82 L1768.27 1361.85 L1770.27 1361.89 L1772.27 1361.92 L1774.28 1361.95 L1776.28 1361.99 L1778.28 1362.02 L1780.28 1362.05 L1782.29 1362.08 L1784.29 1362.12 L1786.29 1362.15 L1788.29 1362.18 L1790.3 1362.21 L1792.3 1362.25 L1794.3 1362.28 L1796.3 1362.31 L1798.31 1362.34 L1800.31 1362.38 L1802.31 1362.41 L1804.31 1362.44 L1806.32 1362.47 L1808.32 1362.5 L1810.32 1362.53 L1812.32 1362.57 L1814.33 1362.6 L1816.33 1362.63 L1818.33 1362.66 L1820.33 1362.69 L1822.34 1362.72 L1824.34 1362.76 L1826.34 1362.79 L1828.34 1362.82 L1830.35 1362.85 L1832.35 1362.88 L1834.35 1362.91 L1836.35 1362.95 L1838.36 1362.98 L1840.36 1363.01 L1842.36 1363.04 L1844.36 1363.08 L1846.37 1363.11 L1848.37 1363.14 L1850.37 1363.17 L1852.37 1363.21 L1854.38 1363.24 L1856.38 1363.27 L1858.38 1363.3 L1860.38 1363.34 L1862.38 1363.37 L1864.39 1363.4 L1866.39 1363.44 L1868.39 1363.47 L1870.39 1363.51 L1872.4 1363.54 L1874.4 1363.58 L1876.4 1363.61 L1878.4 1363.64 L1880.41 1363.68 L1882.41 1363.72 L1884.41 1363.75 L1886.41 1363.79 L1888.42 1363.82 L1890.42 1363.86 L1892.42 1363.9 L1894.42 1363.93 L1896.43 1363.97 L1898.43 1364.01 L1900.43 1364.04 L1902.43 1364.08 L1904.44 1364.12 L1906.44 1364.16 L1908.44 1364.2 L1910.44 1364.24 L1912.45 1364.28 L1914.45 1364.32 L1916.45 1364.36 L1918.45 1364.4 L1920.46 1364.44 L1922.46 1364.48 L1924.46 1364.52 L1926.46 1364.56 L1928.47 1364.6 L1930.47 1364.65 L1932.47 1364.69 L1934.47 1364.73 L1936.48 1364.78 L1938.48 1364.82 L1940.48 1364.87 L1942.48 1364.91 L1944.49 1364.96 L1946.49 1365 L1948.49 1365.05 L1950.49 1365.09 L1952.5 1365.14 L1954.5 1365.19 L1956.5 1365.24 L1958.5 1365.29 L1960.5 1365.34 L1962.51 1365.39 L1964.51 1365.44 L1966.51 1365.49 L1968.51 1365.55 L1970.52 1365.6 L1972.52 1365.65 L1974.52 1365.7 L1976.52 1365.76 L1978.53 1365.81 L1980.53 1365.87 L1982.53 1365.92 L1984.53 1365.98 L1986.54 1366.03 L1988.54 1366.09 L1990.54 1366.15 L1992.54 1366.2 L1994.55 1366.26 L1996.55 1366.32 L1998.55 1366.38 L2000.55 1366.44 L2002.56 1366.5 L2004.56 1366.56 L2006.56 1366.62 L2008.56 1366.69 L2010.57 1366.75 L2012.57 1366.82 L2014.57 1366.88 L2016.57 1366.95 L2018.58 1367.01 L2020.58 1367.08 L2022.58 1367.15 L2024.58 1367.22 L2026.59 1367.29 L2028.59 1367.36 L2030.59 1367.43 L2032.59 1367.5 L2034.6 1367.58 L2036.6 1367.65 L2038.6 1367.73 L2040.6 1367.8 L2042.61 1367.88 L2044.61 1367.95 L2046.61 1368.03 L2048.61 1368.11 L2050.62 1368.19 L2052.62 1368.27 L2054.62 1368.35 L2056.62 1368.43 L2058.62 1368.51 L2060.63 1368.59 L2062.63 1368.68 L2064.63 1368.76 L2066.63 1368.85 L2068.64 1368.93 L2070.64 1369.02 L2072.64 1369.1 L2074.64 1369.19 L2076.65 1369.28 L2078.65 1369.37 L2080.65 1369.46 L2082.65 1369.55 L2084.66 1369.64 L2086.66 1369.73 L2088.66 1369.83 L2090.66 1369.92 L2092.67 1370.02 L2094.67 1370.12 L2096.67 1370.22 L2098.67 1370.32 L2100.68 1370.43 L2102.68 1370.53 L2104.68 1370.64 L2106.68 1370.74 L2108.69 1370.85 L2110.69 1370.96 L2112.69 1371.07 L2114.69 1371.18 L2116.7 1371.3 L2118.7 1371.41 L2120.7 1371.53 L2122.7 1371.65 L2124.71 1371.77 L2126.71 1371.89 L2128.71 1372.01 L2130.71 1372.14 L2132.72 1372.27 L2134.72 1372.39 L2136.72 1372.52 L2138.72 1372.66 L2140.73 1372.79 L2142.73 1372.93 L2144.73 1373.06 L2146.73 1373.2 L2148.74 1373.34 L2150.74 1373.48 L2152.74 1373.63 L2154.74 1373.77 L2156.75 1373.92 L2158.75 1374.07 L2160.75 1374.23 L2162.75 1374.39 L2164.75 1374.55 L2166.76 1374.71 L2168.76 1374.87 L2170.76 1375.04 L2172.76 1375.21 L2174.77 1375.38 L2176.77 1375.55 L2178.77 1375.72 L2180.77 1375.9 L2182.78 1376.08 L2184.78 1376.27 L2186.78 1376.46 L2188.78 1376.64 L2190.79 1376.83 L2192.79 1377.03 L2194.79 1377.22 L2196.79 1377.42 L2198.8 1377.62 L2200.8 1377.83 L2202.8 1378.04 L2204.8 1378.26 L2206.81 1378.48 L2208.81 1378.7 L2210.81 1378.92 L2212.81 1379.15 L2214.82 1379.38 L2216.82 1379.61 L2218.82 1379.84 L2220.82 1380.08 L2222.83 1380.32 L2224.83 1380.56 L2226.83 1380.8 L2228.83 1381.05 L2230.84 1381.3 L2232.84 1381.55 L2234.84 1381.81 L2236.84 1382.07 L2238.85 1382.33 L2240.85 1382.6 L2242.85 1382.87 L2244.85 1383.15 L2246.86 1383.43 L2248.86 1383.71 L2250.86 1384 L2252.86 1384.29 L2254.87 1384.59 L2256.87 1384.89 L2258.87 1385.2 L2260.87 1385.51 L2262.88 1385.82 L2264.88 1386.14 L2266.88 1386.46 L2268.88 1386.79 L2270.88 1387.12 L2272.89 1387.45 L2274.89 1387.79 L2276.89 1388.14 L2278.89 1388.49 L2280.9 1388.84 L2282.9 1389.2 L2284.9 1389.57 L2286.9 1389.94 L2288.91 1390.32 L2290.91 1390.7 L2292.91 1391.09 L2294.91 1391.48 L2296.92 1391.88 L2298.92 1392.29 L2300.92 1392.69 L2302.92 1393.11 L2304.93 1393.53 L2306.93 1393.95 L2308.93 1394.39 L2310.93 1394.83 L2312.94 1395.28 L2314.94 1395.73 L2316.94 1396.19 L2318.94 1396.66 L2320.95 1397.13 L2322.95 1397.61 L2324.95 1398.09 L2326.95 1398.58 L2328.96 1399.08 L2330.96 1399.59 L2332.96 1400.1 L2334.96 1400.63 L2336.97 1401.16 L2338.97 1401.69 L2340.97 1402.24 L2342.97 1402.78 L2344.98 1403.34 L2346.98 1403.89 L2348.98 1404.45 L2350.98 1405.02 L2352.99 1405.6 L2354.99 1406.19 L2356.99 1406.78 L2358.99 1407.37 L2361 1407.98 L2363 1408.59 L2365 1409.2" stroke="#000000"/>
</g>
</g>
<g id="legend">
<rect x="1969.9" y="96.7" width="386.1" height="367.8" fill="#fff" stroke="#262626" stroke-width="3.2"/>
<path d="M1987.8 139.9 H2128.8" stroke="#ff00ff" stroke-width="3.2" fill="none"/>
<text transform="translate(2144 161.1) scale(1.03 1)" font-size="53.2" letter-spacing="0.8" text-anchor="start" fill="#000">50kHz</text>
<path d="M1987.8 210.4 H2128.8" stroke="#ff0000" stroke-width="3.2" fill="none"/>
<text transform="translate(2144 231.6) scale(1.03 1)" font-size="53.2" letter-spacing="0.8" text-anchor="start" fill="#000">65kHz</text>
<path d="M1987.8 280.9 H2128.8" stroke="#00ff00" stroke-width="3.2" fill="none"/>
<text transform="translate(2144 302.1) scale(1.03 1)" font-size="53.2" letter-spacing="0.8" text-anchor="start" fill="#000">80kHz</text>
<path d="M1987.8 351.4 H2128.8" stroke="#0000ff" stroke-width="3.2" fill="none"/>
<text transform="translate(2144 372.6) scale(1.03 1)" font-size="53.2" letter-spacing="0.8" text-anchor="start" fill="#000">120kHz</text>
<path d="M1987.8 421.9 H2128.8" stroke="#000000" stroke-width="3.2" fill="none"/>
<text transform="translate(2144 443.1) scale(1.03 1)" font-size="53.2" letter-spacing="0.8" text-anchor="start" fill="#000">160kHz</text>
</g>
<g id="ticks">
<text transform="translate(296.1 113.4) scale(1.04 1)" font-size="57.6" letter-spacing="1.8" text-anchor="end" fill="#262626" stroke="#262626" stroke-width="0.35">50</text>
<text transform="translate(295.2 326.4) scale(1.04 1)" font-size="57.6" letter-spacing="1.8" text-anchor="end" fill="#262626" stroke="#262626" stroke-width="0.35">0</text>
<text transform="translate(297.8 539.4) scale(1.04 1)" font-size="57.6" letter-spacing="1.8" text-anchor="end" fill="#262626" stroke="#262626" stroke-width="0.35">-50</text>
<text transform="translate(295 752.4) scale(1.04 1)" font-size="57.6" letter-spacing="1.8" text-anchor="end" fill="#262626" dx="0 1.2 -1.2" stroke="#262626" stroke-width="0.35">-100</text>
<text transform="translate(295.4 1001.4) scale(1.04 1)" font-size="57.6" letter-spacing="1.8" text-anchor="end" fill="#262626" stroke="#262626" stroke-width="0.35">0</text>
<text transform="translate(297.8 1214.4) scale(1.04 1)" font-size="57.6" letter-spacing="1.8" text-anchor="end" fill="#262626" stroke="#262626" stroke-width="0.35">-50</text>
<text transform="translate(295 1427.4) scale(1.04 1)" font-size="57.6" letter-spacing="1.8" text-anchor="end" fill="#262626" dx="0 1.2 -1.2" stroke="#262626" stroke-width="0.35">-100</text>
<text transform="translate(295.3 1639.4) scale(1.04 1)" font-size="57.6" letter-spacing="1.8" text-anchor="end" fill="#262626" dx="0 1.2 -1.2" stroke="#262626" stroke-width="0.35">-150</text>
<text transform="translate(272 833) scale(1.04 1)" font-size="57.6" letter-spacing="1.8" text-anchor="start" fill="#262626" dx="2.2 -1.2" stroke="#262626" stroke-width="0.35">10</text>
<text transform="translate(344.3 803.1) scale(0.985 1)" font-size="49.248" letter-spacing="1.8" text-anchor="start" fill="#262626" stroke="#262626" stroke-width="0.3">0</text>
<text transform="translate(680 833) scale(1.04 1)" font-size="57.6" letter-spacing="1.8" text-anchor="start" fill="#262626" dx="2.2 -1.2" stroke="#262626" stroke-width="0.35">10</text>
<text transform="translate(753.5 803.1) scale(0.985 1)" font-size="49.248" letter-spacing="1.8" text-anchor="start" fill="#262626" stroke="#262626" stroke-width="0.3">1</text>
<text transform="translate(1087.1 833) scale(1.04 1)" font-size="57.6" letter-spacing="1.8" text-anchor="start" fill="#262626" dx="2.2 -1.2" stroke="#262626" stroke-width="0.35">10</text>
<text transform="translate(1159.4 803.1) scale(0.985 1)" font-size="49.248" letter-spacing="1.8" text-anchor="start" fill="#262626" stroke="#262626" stroke-width="0.3">2</text>
<text transform="translate(1499.2 833) scale(1.04 1)" font-size="57.6" letter-spacing="1.8" text-anchor="start" fill="#262626" dx="2.2 -1.2" stroke="#262626" stroke-width="0.35">10</text>
<text transform="translate(1571.5 803.1) scale(0.985 1)" font-size="49.248" letter-spacing="1.8" text-anchor="start" fill="#262626" stroke="#262626" stroke-width="0.3">3</text>
<text transform="translate(1906 833) scale(1.04 1)" font-size="57.6" letter-spacing="1.8" text-anchor="start" fill="#262626" dx="2.2 -1.2" stroke="#262626" stroke-width="0.35">10</text>
<text transform="translate(1978.3 803.1) scale(0.985 1)" font-size="49.248" letter-spacing="1.8" text-anchor="start" fill="#262626" stroke="#262626" stroke-width="0.3">4</text>
<text transform="translate(2313.7 833) scale(1.04 1)" font-size="57.6" letter-spacing="1.8" text-anchor="start" fill="#262626" dx="2.2 -1.2" stroke="#262626" stroke-width="0.35">10</text>
<text transform="translate(2386 803.1) scale(0.985 1)" font-size="49.248" letter-spacing="1.8" text-anchor="start" fill="#262626" stroke="#262626" stroke-width="0.3">5</text>
<text transform="translate(272 1720) scale(1.04 1)" font-size="57.6" letter-spacing="1.8" text-anchor="start" fill="#262626" dx="2.2 -1.2" stroke="#262626" stroke-width="0.35">10</text>
<text transform="translate(344.3 1690.1) scale(0.985 1)" font-size="49.248" letter-spacing="1.8" text-anchor="start" fill="#262626" stroke="#262626" stroke-width="0.3">0</text>
<text transform="translate(680 1720) scale(1.04 1)" font-size="57.6" letter-spacing="1.8" text-anchor="start" fill="#262626" dx="2.2 -1.2" stroke="#262626" stroke-width="0.35">10</text>
<text transform="translate(753.5 1690.1) scale(0.985 1)" font-size="49.248" letter-spacing="1.8" text-anchor="start" fill="#262626" stroke="#262626" stroke-width="0.3">1</text>
<text transform="translate(1087.1 1720) scale(1.04 1)" font-size="57.6" letter-spacing="1.8" text-anchor="start" fill="#262626" dx="2.2 -1.2" stroke="#262626" stroke-width="0.35">10</text>
<text transform="translate(1159.4 1690.1) scale(0.985 1)" font-size="49.248" letter-spacing="1.8" text-anchor="start" fill="#262626" stroke="#262626" stroke-width="0.3">2</text>
<text transform="translate(1499.2 1720) scale(1.04 1)" font-size="57.6" letter-spacing="1.8" text-anchor="start" fill="#262626" dx="2.2 -1.2" stroke="#262626" stroke-width="0.35">10</text>
<text transform="translate(1571.5 1690.1) scale(0.985 1)" font-size="49.248" letter-spacing="1.8" text-anchor="start" fill="#262626" stroke="#262626" stroke-width="0.3">3</text>
<text transform="translate(1906 1720) scale(1.04 1)" font-size="57.6" letter-spacing="1.8" text-anchor="start" fill="#262626" dx="2.2 -1.2" stroke="#262626" stroke-width="0.35">10</text>
<text transform="translate(1978.3 1690.1) scale(0.985 1)" font-size="49.248" letter-spacing="1.8" text-anchor="start" fill="#262626" stroke="#262626" stroke-width="0.3">4</text>
<text transform="translate(2313.7 1720) scale(1.04 1)" font-size="57.6" letter-spacing="1.8" text-anchor="start" fill="#262626" dx="2.2 -1.2" stroke="#262626" stroke-width="0.35">10</text>
<text transform="translate(2386 1690.1) scale(0.985 1)" font-size="49.248" letter-spacing="1.8" text-anchor="start" fill="#262626" stroke="#262626" stroke-width="0.3">5</text>
</g>
<g id="labels">
<text class="serif" font-size="72" transform="translate(108.6 627.8) rotate(-90)">Magnitude (dB)</text>
<text class="serif" font-size="72" transform="translate(108.6 1465.8) rotate(-90)">Phase (deg)</text>
<text class="serif" font-size="72.7" x="1050" y="1844.3">Frequency (rad/sec)</text>
</g>
</svg></body></html>
